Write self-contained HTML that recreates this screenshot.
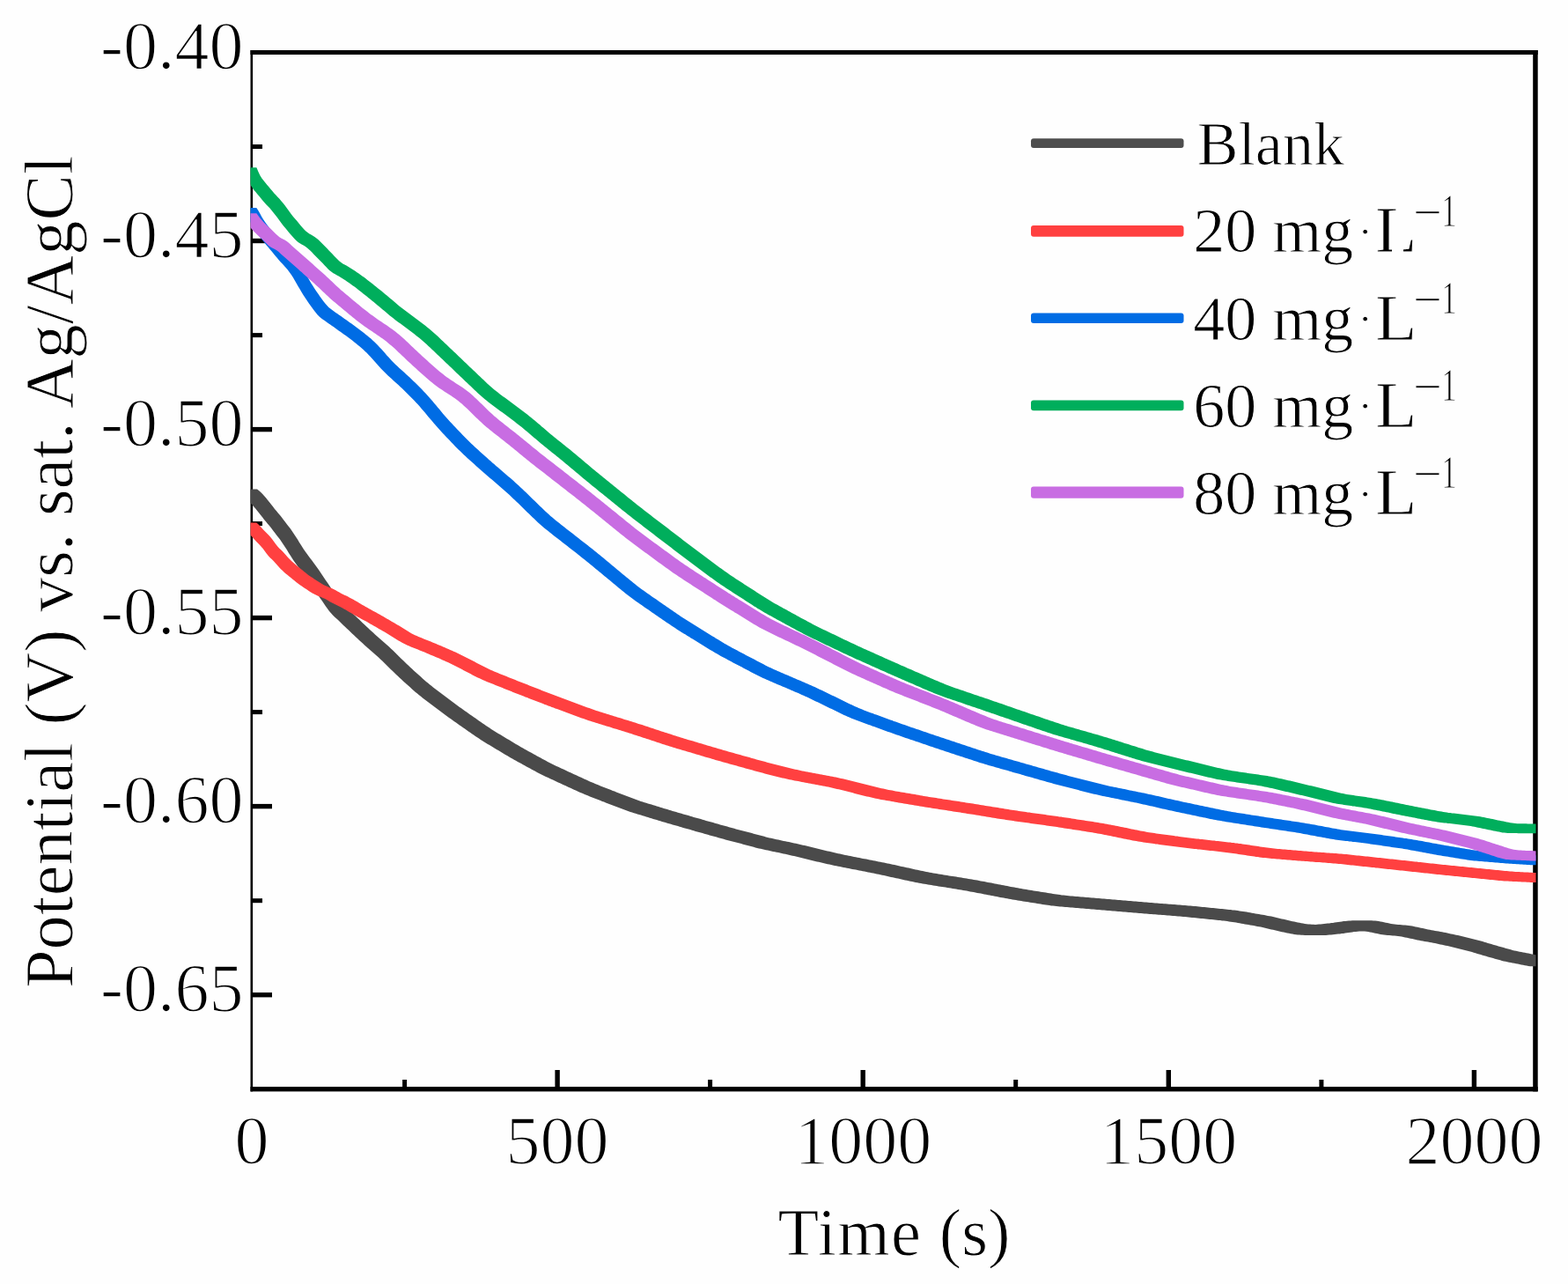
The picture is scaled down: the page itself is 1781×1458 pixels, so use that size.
<!DOCTYPE html>
<html><head><meta charset="utf-8"><title>Potential vs Time</title>
<style>
html,body{margin:0;padding:0;background:#fff;}
body{width:1781px;height:1458px;overflow:hidden;}
svg{display:block;}
text{font-family:"Liberation Serif","Times New Roman",serif;fill:#000;stroke:#fff;stroke-width:1.0px;}
.tick text{stroke-width:1.5px;}
</style></head><body>
<svg width="1781" height="1458" viewBox="0 0 1781 1458">
<rect x="0" y="0" width="1781" height="1458" fill="#fefefe"/>
<defs><clipPath id="plot"><rect x="284.5" y="57" width="1460" height="1182"/></clipPath></defs>

<g fill="#000">
<rect x="284.5" y="57" width="1462.2" height="5"/>
<rect x="1741.2" y="57" width="5.5" height="1182.4"/>
<rect x="284.5" y="1234" width="1462.2" height="5.4"/>
<rect x="284.5" y="57" width="2.6" height="1182.4"/>
<rect x="287" y="270.8" width="22" height="5.4"/>
<rect x="287" y="484.9" width="22" height="5.4"/>
<rect x="287" y="698.9" width="22" height="5.4"/>
<rect x="287" y="912.9" width="22" height="5.4"/>
<rect x="287" y="1127.0" width="22" height="5.4"/>
<rect x="287" y="164.0" width="11" height="5"/>
<rect x="287" y="378.1" width="11" height="5"/>
<rect x="287" y="592.1" width="11" height="5"/>
<rect x="287" y="806.1" width="11" height="5"/>
<rect x="287" y="1020.2" width="11" height="5"/>
<rect x="630.4" y="1215" width="5.4" height="19.5"/>
<rect x="977.5" y="1215" width="5.4" height="19.5"/>
<rect x="1324.6" y="1215" width="5.4" height="19.5"/>
<rect x="1671.7" y="1215" width="5.4" height="19.5"/>
<rect x="457.1" y="1226" width="5" height="8.5"/>
<rect x="804.1" y="1226" width="5" height="8.5"/>
<rect x="1151.2" y="1226" width="5" height="8.5"/>
<rect x="1498.4" y="1226" width="5" height="8.5"/>
</g>
<g clip-path="url(#plot)" stroke="none">
<path fill="#4a4a4a" d="M280.0,567.5 280.0,555.5 292.0,555.5 294.0,557.1 296.0,558.8 298.0,560.7 300.0,562.9 302.0,565.2 304.0,567.7 306.0,570.2 308.0,572.8 310.0,575.3 312.0,577.9 314.0,580.3 316.0,582.7 318.0,585.1 320.0,587.6 322.0,590.2 324.0,592.8 326.0,595.4 328.0,598.0 330.0,600.6 332.0,603.4 334.0,606.4 336.0,609.4 338.0,612.6 340.0,615.9 342.0,619.1 344.0,622.3 346.0,625.3 348.0,628.1 350.0,630.8 352.0,633.4 354.0,636.0 356.0,638.7 358.0,641.4 360.0,644.2 362.0,647.0 364.0,650.0 366.0,652.9 368.0,655.9 370.0,658.9 372.0,661.8 374.0,664.7 376.0,667.7 378.0,670.6 380.0,673.5 382.0,676.4 384.0,679.2 386.0,681.9 388.0,684.3 390.0,686.5 392.0,688.4 394.0,690.3 396.0,692.1 398.0,694.0 400.0,696.0 402.0,697.9 404.0,699.8 406.0,701.7 408.0,703.6 410.0,705.5 412.0,707.4 414.0,709.3 416.0,711.2 418.0,713.1 420.0,715.0 422.0,716.8 424.0,718.6 426.0,720.5 428.0,722.2 430.0,724.0 432.0,725.7 434.0,727.4 436.0,729.2 438.0,730.9 440.0,732.7 442.0,734.5 444.0,736.4 446.0,738.3 448.0,740.3 450.0,742.2 452.0,744.2 454.0,746.2 456.0,748.2 458.0,750.1 460.0,752.1 462.0,754.0 464.0,755.8 466.0,757.7 468.0,759.6 470.0,761.4 472.0,763.2 474.0,765.0 476.0,766.8 478.0,768.6 480.0,770.4 482.0,772.2 484.0,773.9 486.0,775.6 488.0,777.2 490.0,778.8 492.0,780.4 494.0,781.9 496.0,783.5 498.0,785.0 500.0,786.5 502.0,788.0 504.0,789.5 506.0,791.0 508.0,792.5 510.0,794.0 512.0,795.5 514.0,797.0 516.0,798.5 518.0,800.0 520.0,801.4 522.0,802.9 524.0,804.3 526.0,805.7 528.0,807.2 530.0,808.6 532.0,810.0 534.0,811.4 536.0,812.8 538.0,814.2 540.0,815.6 542.0,817.0 544.0,818.4 546.0,819.8 548.0,821.2 550.0,822.5 552.0,823.9 554.0,825.2 556.0,826.6 558.0,827.9 560.0,829.2 562.0,830.4 564.0,831.7 566.0,832.9 568.0,834.1 570.0,835.3 572.0,836.5 574.0,837.7 576.0,838.9 578.0,840.1 580.0,841.3 582.0,842.5 584.0,843.7 586.0,844.9 588.0,846.1 590.0,847.2 592.0,848.4 594.0,849.5 596.0,850.7 598.0,851.8 600.0,852.9 602.0,854.0 604.0,855.1 606.0,856.2 608.0,857.3 610.0,858.4 612.0,859.5 614.0,860.6 616.0,861.7 618.0,862.8 620.0,863.8 622.0,864.9 624.0,865.9 626.0,867.0 628.0,868.0 630.0,868.9 632.0,869.9 634.0,870.8 636.0,871.8 638.0,872.7 640.0,873.6 642.0,874.6 644.0,875.5 646.0,876.4 648.0,877.3 650.0,878.2 652.0,879.2 654.0,880.1 656.0,881.0 658.0,881.9 660.0,882.8 662.0,883.8 664.0,884.7 666.0,885.6 668.0,886.5 670.0,887.4 672.0,888.3 674.0,889.1 676.0,890.0 678.0,890.8 680.0,891.6 682.0,892.4 684.0,893.2 686.0,894.0 688.0,894.8 690.0,895.6 692.0,896.3 694.0,897.1 696.0,897.9 698.0,898.6 700.0,899.4 702.0,900.2 704.0,901.0 706.0,901.7 708.0,902.5 710.0,903.3 712.0,904.0 714.0,904.8 716.0,905.5 718.0,906.3 720.0,907.0 722.0,907.8 724.0,908.5 726.0,909.2 728.0,909.9 730.0,910.5 732.0,911.2 734.0,911.8 736.0,912.4 738.0,913.0 740.0,913.6 742.0,914.2 744.0,914.8 746.0,915.4 748.0,916.1 750.0,916.7 752.0,917.3 754.0,917.9 756.0,918.5 758.0,919.1 760.0,919.7 762.0,920.3 764.0,920.9 766.0,921.5 768.0,922.1 770.0,922.7 772.0,923.3 774.0,923.8 776.0,924.4 778.0,925.0 780.0,925.6 782.0,926.1 784.0,926.7 786.0,927.3 788.0,927.9 790.0,928.4 792.0,929.0 794.0,929.6 796.0,930.1 798.0,930.7 800.0,931.3 802.0,931.9 804.0,932.4 806.0,933.0 808.0,933.6 810.0,934.1 812.0,934.7 814.0,935.3 816.0,935.8 818.0,936.4 820.0,937.0 822.0,937.5 824.0,938.1 826.0,938.6 828.0,939.2 830.0,939.7 832.0,940.3 834.0,940.8 836.0,941.4 838.0,941.9 840.0,942.4 842.0,943.0 844.0,943.5 846.0,944.0 848.0,944.6 850.0,945.1 852.0,945.6 854.0,946.1 856.0,946.7 858.0,947.2 860.0,947.7 862.0,948.3 864.0,948.8 866.0,949.3 868.0,949.8 870.0,950.4 872.0,950.9 874.0,951.4 876.0,951.8 878.0,952.3 880.0,952.8 882.0,953.2 884.0,953.6 886.0,954.1 888.0,954.5 890.0,954.9 892.0,955.3 894.0,955.7 896.0,956.1 898.0,956.6 900.0,957.0 902.0,957.4 904.0,957.8 906.0,958.3 908.0,958.7 910.0,959.2 912.0,959.7 914.0,960.1 916.0,960.6 918.0,961.1 920.0,961.6 922.0,962.0 924.0,962.5 926.0,963.0 928.0,963.5 930.0,964.0 932.0,964.4 934.0,964.9 936.0,965.4 938.0,965.9 940.0,966.4 942.0,966.8 944.0,967.3 946.0,967.8 948.0,968.3 950.0,968.7 952.0,969.2 954.0,969.6 956.0,970.1 958.0,970.5 960.0,970.9 962.0,971.3 964.0,971.7 966.0,972.1 968.0,972.5 970.0,972.9 972.0,973.3 974.0,973.7 976.0,974.1 978.0,974.5 980.0,974.9 982.0,975.2 984.0,975.6 986.0,976.0 988.0,976.4 990.0,976.8 992.0,977.2 994.0,977.6 996.0,978.0 998.0,978.4 1000.0,978.8 1002.0,979.2 1004.0,979.6 1006.0,980.0 1008.0,980.4 1010.0,980.8 1012.0,981.2 1014.0,981.7 1016.0,982.1 1018.0,982.5 1020.0,983.0 1022.0,983.4 1024.0,983.9 1026.0,984.3 1028.0,984.7 1030.0,985.2 1032.0,985.6 1034.0,986.1 1036.0,986.5 1038.0,986.9 1040.0,987.4 1042.0,987.8 1044.0,988.3 1046.0,988.7 1048.0,989.1 1050.0,989.5 1052.0,989.9 1054.0,990.3 1056.0,990.7 1058.0,991.1 1060.0,991.5 1062.0,991.8 1064.0,992.1 1066.0,992.5 1068.0,992.8 1070.0,993.1 1072.0,993.4 1074.0,993.7 1076.0,994.1 1078.0,994.4 1080.0,994.7 1082.0,995.0 1084.0,995.3 1086.0,995.6 1088.0,996.0 1090.0,996.3 1092.0,996.6 1094.0,996.9 1096.0,997.2 1098.0,997.6 1100.0,997.9 1102.0,998.2 1104.0,998.5 1106.0,998.9 1108.0,999.2 1110.0,999.6 1112.0,1000.0 1114.0,1000.4 1116.0,1000.7 1118.0,1001.1 1120.0,1001.5 1122.0,1001.9 1124.0,1002.3 1126.0,1002.6 1128.0,1003.0 1130.0,1003.4 1132.0,1003.8 1134.0,1004.2 1136.0,1004.6 1138.0,1004.9 1140.0,1005.3 1142.0,1005.7 1144.0,1006.1 1146.0,1006.5 1148.0,1006.9 1150.0,1007.2 1152.0,1007.6 1154.0,1008.0 1156.0,1008.3 1158.0,1008.7 1160.0,1009.0 1162.0,1009.4 1164.0,1009.7 1166.0,1010.0 1168.0,1010.4 1170.0,1010.7 1172.0,1011.0 1174.0,1011.4 1176.0,1011.7 1178.0,1012.0 1180.0,1012.3 1182.0,1012.7 1184.0,1013.0 1186.0,1013.3 1188.0,1013.6 1190.0,1014.0 1192.0,1014.3 1194.0,1014.6 1196.0,1014.9 1198.0,1015.3 1200.0,1015.6 1202.0,1015.8 1204.0,1016.1 1206.0,1016.4 1208.0,1016.6 1210.0,1016.8 1212.0,1017.0 1214.0,1017.2 1216.0,1017.4 1218.0,1017.6 1220.0,1017.8 1222.0,1017.9 1224.0,1018.1 1226.0,1018.3 1228.0,1018.4 1230.0,1018.6 1232.0,1018.8 1234.0,1019.0 1236.0,1019.1 1238.0,1019.3 1240.0,1019.5 1242.0,1019.6 1244.0,1019.8 1246.0,1020.0 1248.0,1020.1 1250.0,1020.3 1252.0,1020.5 1254.0,1020.6 1256.0,1020.8 1258.0,1021.0 1260.0,1021.1 1262.0,1021.3 1264.0,1021.5 1266.0,1021.6 1268.0,1021.8 1270.0,1021.9 1272.0,1022.1 1274.0,1022.3 1276.0,1022.4 1278.0,1022.6 1280.0,1022.8 1282.0,1022.9 1284.0,1023.1 1286.0,1023.3 1288.0,1023.4 1290.0,1023.6 1292.0,1023.8 1294.0,1023.9 1296.0,1024.1 1298.0,1024.2 1300.0,1024.4 1302.0,1024.6 1304.0,1024.7 1306.0,1024.9 1308.0,1025.1 1310.0,1025.2 1312.0,1025.4 1314.0,1025.5 1316.0,1025.7 1318.0,1025.9 1320.0,1026.0 1322.0,1026.2 1324.0,1026.3 1326.0,1026.5 1328.0,1026.7 1330.0,1026.8 1332.0,1027.0 1334.0,1027.1 1336.0,1027.3 1338.0,1027.5 1340.0,1027.6 1342.0,1027.8 1344.0,1027.9 1346.0,1028.1 1348.0,1028.3 1350.0,1028.4 1352.0,1028.6 1354.0,1028.8 1356.0,1029.0 1358.0,1029.1 1360.0,1029.3 1362.0,1029.5 1364.0,1029.7 1366.0,1029.9 1368.0,1030.1 1370.0,1030.3 1372.0,1030.5 1374.0,1030.7 1376.0,1030.9 1378.0,1031.1 1380.0,1031.3 1382.0,1031.5 1384.0,1031.7 1386.0,1031.9 1388.0,1032.1 1390.0,1032.3 1392.0,1032.5 1394.0,1032.7 1396.0,1032.9 1398.0,1033.1 1400.0,1033.4 1402.0,1033.6 1404.0,1033.8 1406.0,1034.1 1408.0,1034.4 1410.0,1034.7 1412.0,1035.0 1414.0,1035.3 1416.0,1035.6 1418.0,1036.0 1420.0,1036.3 1422.0,1036.7 1424.0,1037.0 1426.0,1037.4 1428.0,1037.7 1430.0,1038.1 1432.0,1038.4 1434.0,1038.8 1436.0,1039.1 1438.0,1039.5 1440.0,1039.9 1442.0,1040.2 1444.0,1040.6 1446.0,1041.1 1448.0,1041.5 1450.0,1041.9 1452.0,1042.4 1454.0,1042.9 1456.0,1043.4 1458.0,1043.8 1460.0,1044.3 1462.0,1044.8 1464.0,1045.2 1466.0,1045.8 1468.0,1046.2 1470.0,1046.6 1472.0,1047.0 1474.0,1047.4 1476.0,1047.8 1478.0,1048.2 1480.0,1048.6 1482.0,1049.0 1484.0,1049.2 1486.0,1049.5 1488.0,1049.6 1490.0,1049.7 1492.0,1049.8 1494.0,1049.9 1496.0,1049.9 1498.0,1050.0 1500.0,1050.0 1502.0,1050.0 1502.0,1062.0 1490.0,1062.0 1488.0,1062.0 1486.0,1062.0 1484.0,1061.9 1482.0,1061.9 1480.0,1061.8 1478.0,1061.7 1476.0,1061.6 1474.0,1061.5 1472.0,1061.2 1470.0,1061.0 1468.0,1060.6 1466.0,1060.2 1464.0,1059.8 1462.0,1059.4 1460.0,1059.0 1458.0,1058.6 1456.0,1058.2 1454.0,1057.8 1452.0,1057.2 1450.0,1056.8 1448.0,1056.3 1446.0,1055.8 1444.0,1055.4 1442.0,1054.9 1440.0,1054.4 1438.0,1053.9 1436.0,1053.5 1434.0,1053.1 1432.0,1052.6 1430.0,1052.2 1428.0,1051.9 1426.0,1051.5 1424.0,1051.1 1422.0,1050.8 1420.0,1050.4 1418.0,1050.1 1416.0,1049.7 1414.0,1049.4 1412.0,1049.0 1410.0,1048.7 1408.0,1048.3 1406.0,1048.0 1404.0,1047.6 1402.0,1047.3 1400.0,1047.0 1398.0,1046.7 1396.0,1046.4 1394.0,1046.1 1392.0,1045.8 1390.0,1045.6 1388.0,1045.4 1386.0,1045.1 1384.0,1044.9 1382.0,1044.7 1380.0,1044.5 1378.0,1044.3 1376.0,1044.1 1374.0,1043.9 1372.0,1043.7 1370.0,1043.5 1368.0,1043.3 1366.0,1043.1 1364.0,1042.9 1362.0,1042.7 1360.0,1042.5 1358.0,1042.3 1356.0,1042.1 1354.0,1041.9 1352.0,1041.7 1350.0,1041.5 1348.0,1041.3 1346.0,1041.1 1344.0,1041.0 1342.0,1040.8 1340.0,1040.6 1338.0,1040.4 1336.0,1040.3 1334.0,1040.1 1332.0,1039.9 1330.0,1039.8 1328.0,1039.6 1326.0,1039.5 1324.0,1039.3 1322.0,1039.1 1320.0,1039.0 1318.0,1038.8 1316.0,1038.7 1314.0,1038.5 1312.0,1038.3 1310.0,1038.2 1308.0,1038.0 1306.0,1037.9 1304.0,1037.7 1302.0,1037.5 1300.0,1037.4 1298.0,1037.2 1296.0,1037.1 1294.0,1036.9 1292.0,1036.7 1290.0,1036.6 1288.0,1036.4 1286.0,1036.2 1284.0,1036.1 1282.0,1035.9 1280.0,1035.8 1278.0,1035.6 1276.0,1035.4 1274.0,1035.3 1272.0,1035.1 1270.0,1034.9 1268.0,1034.8 1266.0,1034.6 1264.0,1034.4 1262.0,1034.3 1260.0,1034.1 1258.0,1033.9 1256.0,1033.8 1254.0,1033.6 1252.0,1033.5 1250.0,1033.3 1248.0,1033.1 1246.0,1033.0 1244.0,1032.8 1242.0,1032.6 1240.0,1032.5 1238.0,1032.3 1236.0,1032.1 1234.0,1032.0 1232.0,1031.8 1230.0,1031.6 1228.0,1031.5 1226.0,1031.3 1224.0,1031.1 1222.0,1031.0 1220.0,1030.8 1218.0,1030.6 1216.0,1030.4 1214.0,1030.3 1212.0,1030.1 1210.0,1029.9 1208.0,1029.8 1206.0,1029.6 1204.0,1029.4 1202.0,1029.2 1200.0,1029.0 1198.0,1028.8 1196.0,1028.6 1194.0,1028.4 1192.0,1028.1 1190.0,1027.8 1188.0,1027.6 1186.0,1027.3 1184.0,1026.9 1182.0,1026.6 1180.0,1026.3 1178.0,1026.0 1176.0,1025.6 1174.0,1025.3 1172.0,1025.0 1170.0,1024.7 1168.0,1024.3 1166.0,1024.0 1164.0,1023.7 1162.0,1023.4 1160.0,1023.0 1158.0,1022.7 1156.0,1022.4 1154.0,1022.0 1152.0,1021.7 1150.0,1021.4 1148.0,1021.0 1146.0,1020.7 1144.0,1020.3 1142.0,1020.0 1140.0,1019.6 1138.0,1019.2 1136.0,1018.9 1134.0,1018.5 1132.0,1018.1 1130.0,1017.7 1128.0,1017.3 1126.0,1016.9 1124.0,1016.6 1122.0,1016.2 1120.0,1015.8 1118.0,1015.4 1116.0,1015.0 1114.0,1014.6 1112.0,1014.3 1110.0,1013.9 1108.0,1013.5 1106.0,1013.1 1104.0,1012.7 1102.0,1012.4 1100.0,1012.0 1098.0,1011.6 1096.0,1011.2 1094.0,1010.9 1092.0,1010.5 1090.0,1010.2 1088.0,1009.9 1086.0,1009.6 1084.0,1009.2 1082.0,1008.9 1080.0,1008.6 1078.0,1008.3 1076.0,1008.0 1074.0,1007.6 1072.0,1007.3 1070.0,1007.0 1068.0,1006.7 1066.0,1006.4 1064.0,1006.1 1062.0,1005.7 1060.0,1005.4 1058.0,1005.1 1056.0,1004.8 1054.0,1004.5 1052.0,1004.1 1050.0,1003.8 1048.0,1003.5 1046.0,1003.1 1044.0,1002.7 1042.0,1002.3 1040.0,1001.9 1038.0,1001.5 1036.0,1001.1 1034.0,1000.7 1032.0,1000.3 1030.0,999.8 1028.0,999.4 1026.0,998.9 1024.0,998.5 1022.0,998.1 1020.0,997.6 1018.0,997.2 1016.0,996.7 1014.0,996.3 1012.0,995.9 1010.0,995.4 1008.0,995.0 1006.0,994.5 1004.0,994.1 1002.0,993.7 1000.0,993.2 998.0,992.8 996.0,992.4 994.0,992.0 992.0,991.6 990.0,991.2 988.0,990.8 986.0,990.4 984.0,990.0 982.0,989.6 980.0,989.2 978.0,988.8 976.0,988.4 974.0,988.0 972.0,987.6 970.0,987.2 968.0,986.9 966.0,986.5 964.0,986.1 962.0,985.7 960.0,985.3 958.0,984.9 956.0,984.5 954.0,984.1 952.0,983.7 950.0,983.3 948.0,982.9 946.0,982.5 944.0,982.1 942.0,981.6 940.0,981.2 938.0,980.7 936.0,980.3 934.0,979.8 932.0,979.3 930.0,978.8 928.0,978.4 926.0,977.9 924.0,977.4 922.0,976.9 920.0,976.4 918.0,976.0 916.0,975.5 914.0,975.0 912.0,974.5 910.0,974.0 908.0,973.6 906.0,973.1 904.0,972.6 902.0,972.1 900.0,971.7 898.0,971.2 896.0,970.7 894.0,970.3 892.0,969.8 890.0,969.4 888.0,969.0 886.0,968.6 884.0,968.1 882.0,967.7 880.0,967.3 878.0,966.9 876.0,966.5 874.0,966.1 872.0,965.6 870.0,965.2 868.0,964.8 866.0,964.3 864.0,963.8 862.0,963.4 860.0,962.9 858.0,962.4 856.0,961.8 854.0,961.3 852.0,960.8 850.0,960.3 848.0,959.7 846.0,959.2 844.0,958.7 842.0,958.1 840.0,957.6 838.0,957.1 836.0,956.6 834.0,956.0 832.0,955.5 830.0,955.0 828.0,954.4 826.0,953.9 824.0,953.4 822.0,952.8 820.0,952.3 818.0,951.7 816.0,951.2 814.0,950.6 812.0,950.1 810.0,949.5 808.0,949.0 806.0,948.4 804.0,947.8 802.0,947.3 800.0,946.7 798.0,946.1 796.0,945.6 794.0,945.0 792.0,944.4 790.0,943.9 788.0,943.3 786.0,942.7 784.0,942.1 782.0,941.6 780.0,941.0 778.0,940.4 776.0,939.9 774.0,939.3 772.0,938.7 770.0,938.1 768.0,937.6 766.0,937.0 764.0,936.4 762.0,935.8 760.0,935.3 758.0,934.7 756.0,934.1 754.0,933.5 752.0,932.9 750.0,932.3 748.0,931.7 746.0,931.1 744.0,930.5 742.0,929.9 740.0,929.3 738.0,928.7 736.0,928.1 734.0,927.4 732.0,926.8 730.0,926.2 728.0,925.6 726.0,925.0 724.0,924.4 722.0,923.8 720.0,923.2 718.0,922.5 716.0,921.9 714.0,921.2 712.0,920.5 710.0,919.8 708.0,919.0 706.0,918.3 704.0,917.5 702.0,916.8 700.0,916.0 698.0,915.3 696.0,914.5 694.0,913.7 692.0,913.0 690.0,912.2 688.0,911.4 686.0,910.6 684.0,909.9 682.0,909.1 680.0,908.3 678.0,907.6 676.0,906.8 674.0,906.0 672.0,905.2 670.0,904.4 668.0,903.6 666.0,902.8 664.0,902.0 662.0,901.1 660.0,900.3 658.0,899.4 656.0,898.5 654.0,897.6 652.0,896.7 650.0,895.8 648.0,894.8 646.0,893.9 644.0,893.0 642.0,892.1 640.0,891.2 638.0,890.2 636.0,889.3 634.0,888.4 632.0,887.5 630.0,886.6 628.0,885.6 626.0,884.7 624.0,883.8 622.0,882.8 620.0,881.9 618.0,880.9 616.0,880.0 614.0,879.0 612.0,877.9 610.0,876.9 608.0,875.8 606.0,874.8 604.0,873.7 602.0,872.6 600.0,871.5 598.0,870.4 596.0,869.3 594.0,868.2 592.0,867.1 590.0,866.0 588.0,864.9 586.0,863.8 584.0,862.7 582.0,861.5 580.0,860.4 578.0,859.2 576.0,858.1 574.0,856.9 572.0,855.7 570.0,854.5 568.0,853.3 566.0,852.1 564.0,850.9 562.0,849.7 560.0,848.5 558.0,847.3 556.0,846.1 554.0,844.9 552.0,843.7 550.0,842.4 548.0,841.2 546.0,839.9 544.0,838.6 542.0,837.2 540.0,835.9 538.0,834.5 536.0,833.2 534.0,831.8 532.0,830.4 530.0,829.0 528.0,827.6 526.0,826.2 524.0,824.8 522.0,823.4 520.0,822.0 518.0,820.6 516.0,819.2 514.0,817.7 512.0,816.3 510.0,814.9 508.0,813.4 506.0,812.0 504.0,810.5 502.0,809.0 500.0,807.5 498.0,806.0 496.0,804.5 494.0,803.0 492.0,801.5 490.0,800.0 488.0,798.5 486.0,797.0 484.0,795.5 482.0,793.9 480.0,792.4 478.0,790.8 476.0,789.2 474.0,787.6 472.0,785.9 470.0,784.2 468.0,782.4 466.0,780.6 464.0,778.8 462.0,777.0 460.0,775.2 458.0,773.4 456.0,771.6 454.0,769.7 452.0,767.8 450.0,766.0 448.0,764.1 446.0,762.1 444.0,760.2 442.0,758.2 440.0,756.2 438.0,754.2 436.0,752.3 434.0,750.3 432.0,748.4 430.0,746.5 428.0,744.7 426.0,742.9 424.0,741.2 422.0,739.4 420.0,737.7 418.0,736.0 416.0,734.2 414.0,732.5 412.0,730.6 410.0,728.8 408.0,727.0 406.0,725.1 404.0,723.2 402.0,721.3 400.0,719.4 398.0,717.5 396.0,715.6 394.0,713.7 392.0,711.8 390.0,709.9 388.0,708.0 386.0,706.0 384.0,704.1 382.0,702.3 380.0,700.4 378.0,698.5 376.0,696.3 374.0,693.9 372.0,691.2 370.0,688.4 368.0,685.5 366.0,682.6 364.0,679.7 362.0,676.7 360.0,673.8 358.0,670.9 356.0,667.9 354.0,664.9 352.0,662.0 350.0,659.0 348.0,656.2 346.0,653.4 344.0,650.7 342.0,648.0 340.0,645.4 338.0,642.8 336.0,640.1 334.0,637.3 332.0,634.3 330.0,631.1 328.0,627.9 326.0,624.6 324.0,621.4 322.0,618.4 320.0,615.4 318.0,612.6 316.0,610.0 314.0,607.4 312.0,604.8 310.0,602.2 308.0,599.6 306.0,597.1 304.0,594.7 302.0,592.3 300.0,589.9 298.0,587.3 296.0,584.8 294.0,582.2 292.0,579.7 290.0,577.2 288.0,574.9 286.0,572.7 284.0,570.8 282.0,569.1 280.0,567.5ZM1490.0,1050.0 1492.0,1050.0 1494.0,1049.9 1496.0,1049.8 1498.0,1049.6 1500.0,1049.4 1502.0,1049.2 1504.0,1049.0 1506.0,1048.8 1508.0,1048.6 1510.0,1048.4 1512.0,1048.1 1514.0,1047.9 1516.0,1047.6 1518.0,1047.3 1520.0,1047.0 1522.0,1046.7 1524.0,1046.4 1526.0,1046.1 1528.0,1045.9 1530.0,1045.7 1532.0,1045.5 1534.0,1045.4 1536.0,1045.3 1538.0,1045.3 1540.0,1045.3 1542.0,1045.3 1554.0,1045.3 1554.0,1057.3 1552.0,1057.3 1550.0,1057.3 1548.0,1057.3 1546.0,1057.4 1544.0,1057.5 1542.0,1057.7 1540.0,1057.9 1538.0,1058.1 1536.0,1058.4 1534.0,1058.7 1532.0,1059.0 1530.0,1059.3 1528.0,1059.6 1526.0,1059.9 1524.0,1060.1 1522.0,1060.4 1520.0,1060.6 1518.0,1060.8 1516.0,1061.0 1514.0,1061.2 1512.0,1061.4 1510.0,1061.6 1508.0,1061.8 1506.0,1061.9 1504.0,1062.0 1502.0,1062.0 1490.0,1062.0 1490.0,1050.0ZM1542.0,1057.3 1542.0,1045.3 1554.0,1045.3 1556.0,1045.3 1558.0,1045.3 1560.0,1045.4 1562.0,1045.5 1564.0,1045.7 1566.0,1046.0 1568.0,1046.4 1570.0,1046.8 1572.0,1047.2 1574.0,1047.7 1576.0,1048.1 1578.0,1048.5 1580.0,1048.9 1582.0,1049.2 1584.0,1049.5 1586.0,1049.8 1588.0,1050.0 1590.0,1050.1 1592.0,1050.3 1594.0,1050.5 1596.0,1050.6 1598.0,1050.8 1600.0,1051.0 1602.0,1051.3 1604.0,1051.6 1606.0,1051.9 1608.0,1052.4 1610.0,1052.8 1612.0,1053.2 1614.0,1053.7 1616.0,1054.1 1618.0,1054.5 1620.0,1055.0 1622.0,1055.4 1624.0,1055.8 1626.0,1056.2 1628.0,1056.5 1630.0,1056.9 1632.0,1057.2 1634.0,1057.6 1636.0,1058.0 1638.0,1058.3 1640.0,1058.7 1642.0,1059.1 1644.0,1059.5 1646.0,1059.9 1648.0,1060.4 1650.0,1060.8 1652.0,1061.2 1654.0,1061.7 1656.0,1062.1 1658.0,1062.5 1660.0,1063.0 1662.0,1063.5 1664.0,1063.9 1666.0,1064.4 1668.0,1064.9 1670.0,1065.4 1672.0,1065.9 1674.0,1066.4 1676.0,1066.9 1678.0,1067.5 1680.0,1068.0 1682.0,1068.5 1684.0,1069.1 1686.0,1069.7 1688.0,1070.3 1690.0,1070.9 1692.0,1071.5 1694.0,1072.1 1696.0,1072.7 1698.0,1073.3 1700.0,1073.8 1702.0,1074.4 1704.0,1075.0 1706.0,1075.6 1708.0,1076.1 1710.0,1076.7 1712.0,1077.2 1714.0,1077.8 1716.0,1078.3 1718.0,1078.9 1720.0,1079.4 1722.0,1079.8 1724.0,1080.3 1726.0,1080.7 1728.0,1081.1 1730.0,1081.4 1732.0,1081.8 1734.0,1082.2 1736.0,1082.6 1738.0,1083.0 1740.0,1083.4 1742.0,1083.8 1744.0,1084.2 1746.0,1084.5 1748.0,1084.9 1750.0,1085.3 1750.0,1097.3 1738.0,1097.3 1736.0,1096.9 1734.0,1096.5 1732.0,1096.2 1730.0,1095.8 1728.0,1095.4 1726.0,1095.0 1724.0,1094.6 1722.0,1094.2 1720.0,1093.8 1718.0,1093.4 1716.0,1093.1 1714.0,1092.7 1712.0,1092.3 1710.0,1091.8 1708.0,1091.4 1706.0,1090.9 1704.0,1090.3 1702.0,1089.8 1700.0,1089.2 1698.0,1088.7 1696.0,1088.1 1694.0,1087.6 1692.0,1087.0 1690.0,1086.4 1688.0,1085.8 1686.0,1085.3 1684.0,1084.7 1682.0,1084.1 1680.0,1083.5 1678.0,1082.9 1676.0,1082.3 1674.0,1081.7 1672.0,1081.1 1670.0,1080.5 1668.0,1080.0 1666.0,1079.5 1664.0,1078.9 1662.0,1078.4 1660.0,1077.9 1658.0,1077.4 1656.0,1076.9 1654.0,1076.4 1652.0,1075.9 1650.0,1075.5 1648.0,1075.0 1646.0,1074.5 1644.0,1074.1 1642.0,1073.7 1640.0,1073.2 1638.0,1072.8 1636.0,1072.4 1634.0,1071.9 1632.0,1071.5 1630.0,1071.1 1628.0,1070.7 1626.0,1070.3 1624.0,1070.0 1622.0,1069.6 1620.0,1069.2 1618.0,1068.9 1616.0,1068.5 1614.0,1068.2 1612.0,1067.8 1610.0,1067.4 1608.0,1067.0 1606.0,1066.5 1604.0,1066.1 1602.0,1065.7 1600.0,1065.2 1598.0,1064.8 1596.0,1064.4 1594.0,1063.9 1592.0,1063.6 1590.0,1063.3 1588.0,1063.0 1586.0,1062.8 1584.0,1062.6 1582.0,1062.5 1580.0,1062.3 1578.0,1062.1 1576.0,1062.0 1574.0,1061.8 1572.0,1061.5 1570.0,1061.2 1568.0,1060.9 1566.0,1060.5 1564.0,1060.1 1562.0,1059.7 1560.0,1059.2 1558.0,1058.8 1556.0,1058.4 1554.0,1058.0 1552.0,1057.7 1550.0,1057.5 1548.0,1057.4 1546.0,1057.3 1544.0,1057.3 1542.0,1057.3Z"/>
<path fill="#ff4040" d="M280.7,604.2 280.7,593.6 291.3,593.6 293.3,595.3 295.3,597.2 297.3,599.4 299.3,601.7 301.3,603.8 303.3,605.8 305.3,607.8 307.3,610.1 309.3,612.5 311.3,615.2 313.3,618.0 315.3,620.5 317.3,622.7 319.3,624.5 321.3,626.5 323.3,628.7 325.3,631.0 327.3,633.2 329.3,635.3 331.3,637.2 333.3,639.1 335.3,640.8 337.3,642.5 339.3,644.1 341.3,645.7 343.3,647.3 345.3,649.0 347.3,650.6 349.3,652.2 351.3,653.7 353.3,655.0 355.3,656.3 357.3,657.7 359.3,659.0 361.3,660.3 363.3,661.6 365.3,662.8 367.3,663.9 369.3,664.9 371.3,665.8 373.3,666.7 375.3,667.5 377.3,668.3 379.3,669.2 381.3,670.2 383.3,671.4 385.3,672.6 387.3,673.7 389.3,674.7 391.3,675.7 393.3,676.6 395.3,677.6 397.3,678.7 399.3,679.7 401.3,680.8 403.3,682.0 405.3,683.1 407.3,684.3 409.3,685.5 411.3,686.7 413.3,687.8 415.3,689.0 417.3,690.1 419.3,691.2 421.3,692.3 423.3,693.4 425.3,694.4 427.3,695.5 429.3,696.7 431.3,697.8 433.3,698.9 435.3,700.1 437.3,701.2 439.3,702.4 441.3,703.6 443.3,704.7 445.3,705.9 447.3,707.0 449.3,708.2 451.3,709.4 453.3,710.6 455.3,711.8 457.3,713.1 459.3,714.3 461.3,715.6 463.3,716.8 465.3,718.0 467.3,719.2 469.3,720.2 471.3,721.2 473.3,722.1 475.3,723.0 477.3,723.8 479.3,724.6 481.3,725.4 483.3,726.2 485.3,727.0 487.3,727.8 489.3,728.6 491.3,729.4 493.3,730.2 495.3,731.1 497.3,731.9 499.3,732.8 501.3,733.6 503.3,734.5 505.3,735.3 507.3,736.2 509.3,737.0 511.3,737.9 513.3,738.8 515.3,739.7 517.3,740.6 519.3,741.5 521.3,742.4 523.3,743.4 525.3,744.4 527.3,745.4 529.3,746.4 531.3,747.4 533.3,748.5 535.3,749.5 537.3,750.6 539.3,751.6 541.3,752.7 543.3,753.7 545.3,754.7 547.3,755.8 549.3,756.8 551.3,757.8 553.3,758.8 555.3,759.7 557.3,760.7 559.3,761.6 561.3,762.4 563.3,763.3 565.3,764.1 567.3,764.9 569.3,765.7 571.3,766.5 573.3,767.3 575.3,768.1 577.3,768.9 579.3,769.7 581.3,770.5 583.3,771.3 585.3,772.1 587.3,772.9 589.3,773.7 591.3,774.5 593.3,775.3 595.3,776.1 597.3,776.8 599.3,777.6 601.3,778.4 603.3,779.2 605.3,780.0 607.3,780.8 609.3,781.5 611.3,782.3 613.3,783.1 615.3,783.9 617.3,784.7 619.3,785.4 621.3,786.2 623.3,787.0 625.3,787.7 627.3,788.5 629.3,789.3 631.3,790.0 633.3,790.8 635.3,791.5 637.3,792.3 639.3,793.0 641.3,793.8 643.3,794.5 645.3,795.2 647.3,796.0 649.3,796.7 651.3,797.5 653.3,798.2 655.3,799.0 657.3,799.7 659.3,800.4 661.3,801.2 663.3,801.9 665.3,802.7 667.3,803.4 669.3,804.1 671.3,804.8 673.3,805.5 675.3,806.2 677.3,806.9 679.3,807.6 681.3,808.2 683.3,808.8 685.3,809.5 687.3,810.1 689.3,810.7 691.3,811.3 693.3,811.9 695.3,812.6 697.3,813.2 699.3,813.8 701.3,814.4 703.3,815.0 705.3,815.6 707.3,816.3 709.3,816.9 711.3,817.5 713.3,818.1 715.3,818.7 717.3,819.3 719.3,820.0 721.3,820.6 723.3,821.2 725.3,821.9 727.3,822.5 729.3,823.1 731.3,823.8 733.3,824.4 735.3,825.1 737.3,825.7 739.3,826.4 741.3,827.1 743.3,827.7 745.3,828.4 747.3,829.0 749.3,829.7 751.3,830.4 753.3,831.0 755.3,831.7 757.3,832.3 759.3,833.0 761.3,833.6 763.3,834.3 765.3,834.9 767.3,835.6 769.3,836.2 771.3,836.8 773.3,837.4 775.3,838.1 777.3,838.7 779.3,839.3 781.3,839.9 783.3,840.5 785.3,841.1 787.3,841.6 789.3,842.2 791.3,842.8 793.3,843.4 795.3,844.0 797.3,844.6 799.3,845.2 801.3,845.8 803.3,846.4 805.3,847.0 807.3,847.6 809.3,848.2 811.3,848.8 813.3,849.3 815.3,849.9 817.3,850.5 819.3,851.1 821.3,851.7 823.3,852.3 825.3,852.8 827.3,853.4 829.3,854.0 831.3,854.6 833.3,855.1 835.3,855.7 837.3,856.2 839.3,856.8 841.3,857.3 843.3,857.9 845.3,858.5 847.3,859.0 849.3,859.6 851.3,860.1 853.3,860.7 855.3,861.2 857.3,861.8 859.3,862.4 861.3,862.9 863.3,863.5 865.3,864.0 867.3,864.6 869.3,865.1 871.3,865.7 873.3,866.2 875.3,866.7 877.3,867.2 879.3,867.8 881.3,868.3 883.3,868.8 885.3,869.3 887.3,869.8 889.3,870.3 891.3,870.8 893.3,871.3 895.3,871.8 897.3,872.3 899.3,872.8 901.3,873.2 903.3,873.7 905.3,874.1 907.3,874.6 909.3,875.0 911.3,875.4 913.3,875.8 915.3,876.2 917.3,876.5 919.3,876.9 921.3,877.3 923.3,877.7 925.3,878.1 927.3,878.4 929.3,878.8 931.3,879.2 933.3,879.6 935.3,879.9 937.3,880.3 939.3,880.7 941.3,881.1 943.3,881.5 945.3,881.8 947.3,882.2 949.3,882.6 951.3,883.0 953.3,883.4 955.3,883.9 957.3,884.3 959.3,884.8 961.3,885.3 963.3,885.7 965.3,886.2 967.3,886.7 969.3,887.2 971.3,887.7 973.3,888.2 975.3,888.7 977.3,889.2 979.3,889.7 981.3,890.3 983.3,890.8 985.3,891.3 987.3,891.8 989.3,892.3 991.3,892.8 993.3,893.3 995.3,893.8 997.3,894.2 999.3,894.7 1001.3,895.2 1003.3,895.6 1005.3,896.1 1007.3,896.5 1009.3,896.9 1011.3,897.3 1013.3,897.6 1015.3,898.0 1017.3,898.4 1019.3,898.7 1021.3,899.0 1023.3,899.4 1025.3,899.7 1027.3,900.1 1029.3,900.4 1031.3,900.8 1033.3,901.1 1035.3,901.5 1037.3,901.8 1039.3,902.1 1041.3,902.5 1043.3,902.8 1045.3,903.2 1047.3,903.5 1049.3,903.9 1051.3,904.2 1053.3,904.5 1055.3,904.9 1057.3,905.2 1059.3,905.5 1061.3,905.8 1063.3,906.1 1065.3,906.4 1067.3,906.7 1069.3,907.1 1071.3,907.4 1073.3,907.7 1075.3,908.0 1077.3,908.3 1079.3,908.6 1081.3,908.9 1083.3,909.2 1085.3,909.5 1087.3,909.8 1089.3,910.1 1091.3,910.4 1093.3,910.8 1095.3,911.1 1097.3,911.4 1099.3,911.7 1101.3,912.0 1103.3,912.3 1105.3,912.6 1107.3,912.9 1109.3,913.3 1111.3,913.6 1113.3,913.9 1115.3,914.2 1117.3,914.5 1119.3,914.9 1121.3,915.2 1123.3,915.5 1125.3,915.8 1127.3,916.2 1129.3,916.5 1131.3,916.8 1133.3,917.1 1135.3,917.5 1137.3,917.8 1139.3,918.1 1141.3,918.4 1143.3,918.8 1145.3,919.1 1147.3,919.4 1149.3,919.7 1151.3,920.0 1153.3,920.3 1155.3,920.6 1157.3,920.9 1159.3,921.2 1161.3,921.5 1163.3,921.8 1165.3,922.1 1167.3,922.4 1169.3,922.6 1171.3,922.9 1173.3,923.2 1175.3,923.5 1177.3,923.7 1179.3,924.0 1181.3,924.3 1183.3,924.6 1185.3,924.8 1187.3,925.1 1189.3,925.4 1191.3,925.7 1193.3,925.9 1195.3,926.2 1197.3,926.5 1199.3,926.8 1201.3,927.1 1203.3,927.4 1205.3,927.6 1207.3,927.9 1209.3,928.2 1211.3,928.5 1213.3,928.8 1215.3,929.1 1217.3,929.4 1219.3,929.8 1221.3,930.1 1223.3,930.4 1225.3,930.7 1227.3,931.0 1229.3,931.3 1231.3,931.6 1233.3,931.9 1235.3,932.2 1237.3,932.5 1239.3,932.8 1241.3,933.1 1243.3,933.5 1245.3,933.8 1247.3,934.1 1249.3,934.4 1251.3,934.7 1253.3,935.1 1255.3,935.4 1257.3,935.8 1259.3,936.2 1261.3,936.5 1263.3,936.9 1265.3,937.3 1267.3,937.7 1269.3,938.1 1271.3,938.5 1273.3,938.9 1275.3,939.3 1277.3,939.7 1279.3,940.1 1281.3,940.6 1283.3,941.0 1285.3,941.4 1287.3,941.8 1289.3,942.2 1291.3,942.6 1293.3,943.0 1295.3,943.4 1297.3,943.8 1299.3,944.1 1301.3,944.5 1303.3,944.9 1305.3,945.2 1307.3,945.5 1309.3,945.8 1311.3,946.1 1313.3,946.4 1315.3,946.7 1317.3,947.0 1319.3,947.2 1321.3,947.5 1323.3,947.8 1325.3,948.0 1327.3,948.3 1329.3,948.6 1331.3,948.8 1333.3,949.1 1335.3,949.4 1337.3,949.6 1339.3,949.9 1341.3,950.2 1343.3,950.4 1345.3,950.7 1347.3,950.9 1349.3,951.2 1351.3,951.4 1353.3,951.7 1355.3,951.9 1357.3,952.2 1359.3,952.4 1361.3,952.6 1363.3,952.9 1365.3,953.1 1367.3,953.3 1369.3,953.5 1371.3,953.8 1373.3,954.0 1375.3,954.2 1377.3,954.4 1379.3,954.6 1381.3,954.9 1383.3,955.1 1385.3,955.3 1387.3,955.5 1389.3,955.7 1391.3,956.0 1393.3,956.2 1395.3,956.4 1397.3,956.6 1399.3,956.9 1401.3,957.1 1403.3,957.4 1405.3,957.6 1407.3,957.9 1409.3,958.1 1411.3,958.4 1413.3,958.7 1415.3,959.0 1417.3,959.3 1419.3,959.6 1421.3,959.9 1423.3,960.2 1425.3,960.5 1427.3,960.8 1429.3,961.1 1431.3,961.4 1433.3,961.7 1435.3,962.0 1437.3,962.3 1439.3,962.5 1441.3,962.8 1443.3,963.1 1445.3,963.3 1447.3,963.5 1449.3,963.7 1451.3,963.9 1453.3,964.1 1455.3,964.3 1457.3,964.5 1459.3,964.6 1461.3,964.8 1463.3,965.0 1465.3,965.1 1467.3,965.3 1469.3,965.5 1471.3,965.6 1473.3,965.8 1475.3,966.0 1477.3,966.1 1479.3,966.3 1481.3,966.5 1483.3,966.6 1485.3,966.8 1487.3,966.9 1489.3,967.1 1491.3,967.2 1493.3,967.4 1495.3,967.5 1497.3,967.7 1499.3,967.8 1501.3,968.0 1503.3,968.1 1505.3,968.3 1507.3,968.4 1509.3,968.5 1511.3,968.7 1513.3,968.8 1515.3,969.0 1517.3,969.1 1519.3,969.3 1521.3,969.4 1523.3,969.6 1525.3,969.8 1527.3,969.9 1529.3,970.1 1531.3,970.3 1533.3,970.5 1535.3,970.7 1537.3,971.0 1539.3,971.2 1541.3,971.4 1543.3,971.6 1545.3,971.8 1547.3,972.0 1549.3,972.2 1551.3,972.4 1553.3,972.6 1555.3,972.8 1557.3,973.1 1559.3,973.3 1561.3,973.5 1563.3,973.7 1565.3,973.9 1567.3,974.1 1569.3,974.3 1571.3,974.5 1573.3,974.8 1575.3,975.0 1577.3,975.2 1579.3,975.4 1581.3,975.6 1583.3,975.8 1585.3,976.1 1587.3,976.3 1589.3,976.5 1591.3,976.7 1593.3,976.9 1595.3,977.1 1597.3,977.3 1599.3,977.6 1601.3,977.8 1603.3,978.0 1605.3,978.2 1607.3,978.4 1609.3,978.6 1611.3,978.9 1613.3,979.1 1615.3,979.3 1617.3,979.5 1619.3,979.7 1621.3,979.9 1623.3,980.2 1625.3,980.4 1627.3,980.6 1629.3,980.8 1631.3,981.0 1633.3,981.2 1635.3,981.5 1637.3,981.7 1639.3,981.9 1641.3,982.1 1643.3,982.3 1645.3,982.5 1647.3,982.7 1649.3,982.9 1651.3,983.1 1653.3,983.3 1655.3,983.5 1657.3,983.7 1659.3,983.9 1661.3,984.1 1663.3,984.3 1665.3,984.5 1667.3,984.7 1669.3,984.9 1671.3,985.1 1673.3,985.3 1675.3,985.5 1677.3,985.7 1679.3,985.9 1681.3,986.1 1683.3,986.3 1685.3,986.5 1687.3,986.7 1689.3,986.9 1691.3,987.1 1693.3,987.3 1695.3,987.5 1697.3,987.7 1699.3,987.9 1701.3,988.1 1703.3,988.3 1705.3,988.5 1707.3,988.7 1709.3,988.9 1711.3,989.1 1713.3,989.3 1715.3,989.4 1717.3,989.6 1719.3,989.8 1721.3,989.9 1723.3,990.0 1725.3,990.1 1727.3,990.2 1729.3,990.3 1731.3,990.4 1733.3,990.5 1735.3,990.6 1737.3,990.7 1739.3,990.8 1741.3,990.9 1743.3,991.0 1745.3,991.1 1747.3,991.2 1749.3,991.3 1749.3,1001.9 1738.7,1001.9 1736.7,1001.8 1734.7,1001.7 1732.7,1001.6 1730.7,1001.5 1728.7,1001.4 1726.7,1001.3 1724.7,1001.2 1722.7,1001.1 1720.7,1001.0 1718.7,1000.9 1716.7,1000.8 1714.7,1000.7 1712.7,1000.6 1710.7,1000.5 1708.7,1000.4 1706.7,1000.2 1704.7,1000.0 1702.7,999.9 1700.7,999.7 1698.7,999.5 1696.7,999.3 1694.7,999.1 1692.7,998.9 1690.7,998.7 1688.7,998.5 1686.7,998.3 1684.7,998.1 1682.7,997.9 1680.7,997.7 1678.7,997.5 1676.7,997.3 1674.7,997.1 1672.7,996.9 1670.7,996.7 1668.7,996.5 1666.7,996.3 1664.7,996.1 1662.7,995.9 1660.7,995.7 1658.7,995.5 1656.7,995.3 1654.7,995.1 1652.7,994.9 1650.7,994.7 1648.7,994.5 1646.7,994.3 1644.7,994.1 1642.7,993.9 1640.7,993.7 1638.7,993.5 1636.7,993.3 1634.7,993.1 1632.7,992.9 1630.7,992.7 1628.7,992.5 1626.7,992.3 1624.7,992.1 1622.7,991.8 1620.7,991.6 1618.7,991.4 1616.7,991.2 1614.7,991.0 1612.7,990.8 1610.7,990.5 1608.7,990.3 1606.7,990.1 1604.7,989.9 1602.7,989.7 1600.7,989.5 1598.7,989.2 1596.7,989.0 1594.7,988.8 1592.7,988.6 1590.7,988.4 1588.7,988.2 1586.7,987.9 1584.7,987.7 1582.7,987.5 1580.7,987.3 1578.7,987.1 1576.7,986.9 1574.7,986.7 1572.7,986.4 1570.7,986.2 1568.7,986.0 1566.7,985.8 1564.7,985.6 1562.7,985.4 1560.7,985.1 1558.7,984.9 1556.7,984.7 1554.7,984.5 1552.7,984.3 1550.7,984.1 1548.7,983.9 1546.7,983.7 1544.7,983.4 1542.7,983.2 1540.7,983.0 1538.7,982.8 1536.7,982.6 1534.7,982.4 1532.7,982.2 1530.7,982.0 1528.7,981.8 1526.7,981.6 1524.7,981.3 1522.7,981.1 1520.7,980.9 1518.7,980.7 1516.7,980.5 1514.7,980.4 1512.7,980.2 1510.7,980.0 1508.7,979.9 1506.7,979.7 1504.7,979.6 1502.7,979.4 1500.7,979.3 1498.7,979.1 1496.7,979.0 1494.7,978.9 1492.7,978.7 1490.7,978.6 1488.7,978.4 1486.7,978.3 1484.7,978.1 1482.7,978.0 1480.7,977.8 1478.7,977.7 1476.7,977.5 1474.7,977.4 1472.7,977.2 1470.7,977.1 1468.7,976.9 1466.7,976.7 1464.7,976.6 1462.7,976.4 1460.7,976.2 1458.7,976.1 1456.7,975.9 1454.7,975.7 1452.7,975.6 1450.7,975.4 1448.7,975.2 1446.7,975.1 1444.7,974.9 1442.7,974.7 1440.7,974.5 1438.7,974.3 1436.7,974.1 1434.7,973.9 1432.7,973.7 1430.7,973.4 1428.7,973.1 1426.7,972.9 1424.7,972.6 1422.7,972.3 1420.7,972.0 1418.7,971.7 1416.7,971.4 1414.7,971.1 1412.7,970.8 1410.7,970.5 1408.7,970.2 1406.7,969.9 1404.7,969.6 1402.7,969.3 1400.7,969.0 1398.7,968.7 1396.7,968.5 1394.7,968.2 1392.7,968.0 1390.7,967.7 1388.7,967.5 1386.7,967.2 1384.7,967.0 1382.7,966.8 1380.7,966.6 1378.7,966.3 1376.7,966.1 1374.7,965.9 1372.7,965.7 1370.7,965.5 1368.7,965.2 1366.7,965.0 1364.7,964.8 1362.7,964.6 1360.7,964.4 1358.7,964.1 1356.7,963.9 1354.7,963.7 1352.7,963.5 1350.7,963.2 1348.7,963.0 1346.7,962.8 1344.7,962.5 1342.7,962.3 1340.7,962.0 1338.7,961.8 1336.7,961.5 1334.7,961.3 1332.7,961.0 1330.7,960.8 1328.7,960.5 1326.7,960.2 1324.7,960.0 1322.7,959.7 1320.7,959.4 1318.7,959.2 1316.7,958.9 1314.7,958.6 1312.7,958.4 1310.7,958.1 1308.7,957.8 1306.7,957.6 1304.7,957.3 1302.7,957.0 1300.7,956.7 1298.7,956.4 1296.7,956.1 1294.7,955.8 1292.7,955.5 1290.7,955.1 1288.7,954.7 1286.7,954.4 1284.7,954.0 1282.7,953.6 1280.7,953.2 1278.7,952.8 1276.7,952.4 1274.7,952.0 1272.7,951.6 1270.7,951.2 1268.7,950.7 1266.7,950.3 1264.7,949.9 1262.7,949.5 1260.7,949.1 1258.7,948.7 1256.7,948.3 1254.7,947.9 1252.7,947.5 1250.7,947.1 1248.7,946.8 1246.7,946.4 1244.7,946.0 1242.7,945.7 1240.7,945.3 1238.7,945.0 1236.7,944.7 1234.7,944.4 1232.7,944.1 1230.7,943.7 1228.7,943.4 1226.7,943.1 1224.7,942.8 1222.7,942.5 1220.7,942.2 1218.7,941.9 1216.7,941.6 1214.7,941.3 1212.7,941.0 1210.7,940.7 1208.7,940.4 1206.7,940.0 1204.7,939.7 1202.7,939.4 1200.7,939.1 1198.7,938.8 1196.7,938.5 1194.7,938.2 1192.7,938.0 1190.7,937.7 1188.7,937.4 1186.7,937.1 1184.7,936.8 1182.7,936.5 1180.7,936.3 1178.7,936.0 1176.7,935.7 1174.7,935.4 1172.7,935.2 1170.7,934.9 1168.7,934.6 1166.7,934.3 1164.7,934.1 1162.7,933.8 1160.7,933.5 1158.7,933.2 1156.7,933.0 1154.7,932.7 1152.7,932.4 1150.7,932.1 1148.7,931.8 1146.7,931.5 1144.7,931.2 1142.7,930.9 1140.7,930.6 1138.7,930.3 1136.7,930.0 1134.7,929.7 1132.7,929.4 1130.7,929.0 1128.7,928.7 1126.7,928.4 1124.7,928.1 1122.7,927.7 1120.7,927.4 1118.7,927.1 1116.7,926.8 1114.7,926.4 1112.7,926.1 1110.7,925.8 1108.7,925.5 1106.7,925.1 1104.7,924.8 1102.7,924.5 1100.7,924.2 1098.7,923.9 1096.7,923.5 1094.7,923.2 1092.7,922.9 1090.7,922.6 1088.7,922.3 1086.7,922.0 1084.7,921.7 1082.7,921.4 1080.7,921.0 1078.7,920.7 1076.7,920.4 1074.7,920.1 1072.7,919.8 1070.7,919.5 1068.7,919.2 1066.7,918.9 1064.7,918.6 1062.7,918.3 1060.7,918.0 1058.7,917.7 1056.7,917.3 1054.7,917.0 1052.7,916.7 1050.7,916.4 1048.7,916.1 1046.7,915.8 1044.7,915.5 1042.7,915.1 1040.7,914.8 1038.7,914.5 1036.7,914.1 1034.7,913.8 1032.7,913.4 1030.7,913.1 1028.7,912.7 1026.7,912.4 1024.7,912.1 1022.7,911.7 1020.7,911.4 1018.7,911.0 1016.7,910.7 1014.7,910.3 1012.7,910.0 1010.7,909.6 1008.7,909.3 1006.7,909.0 1004.7,908.6 1002.7,908.2 1000.7,907.9 998.7,907.5 996.7,907.1 994.7,906.7 992.7,906.2 990.7,905.8 988.7,905.3 986.7,904.8 984.7,904.4 982.7,903.9 980.7,903.4 978.7,902.9 976.7,902.4 974.7,901.9 972.7,901.4 970.7,900.9 968.7,900.3 966.7,899.8 964.7,899.3 962.7,898.8 960.7,898.3 958.7,897.8 956.7,897.3 954.7,896.8 952.7,896.3 950.7,895.9 948.7,895.4 946.7,894.9 944.7,894.5 942.7,894.0 940.7,893.6 938.7,893.2 936.7,892.8 934.7,892.4 932.7,892.1 930.7,891.7 928.7,891.3 926.7,890.9 924.7,890.5 922.7,890.2 920.7,889.8 918.7,889.4 916.7,889.0 914.7,888.7 912.7,888.3 910.7,887.9 908.7,887.5 906.7,887.1 904.7,886.8 902.7,886.4 900.7,886.0 898.7,885.6 896.7,885.2 894.7,884.7 892.7,884.3 890.7,883.8 888.7,883.4 886.7,882.9 884.7,882.4 882.7,881.9 880.7,881.4 878.7,880.9 876.7,880.4 874.7,879.9 872.7,879.4 870.7,878.9 868.7,878.4 866.7,877.8 864.7,877.3 862.7,876.8 860.7,876.3 858.7,875.7 856.7,875.2 854.7,874.6 852.7,874.1 850.7,873.5 848.7,873.0 846.7,872.4 844.7,871.8 842.7,871.3 840.7,870.7 838.7,870.2 836.7,869.6 834.7,869.1 832.7,868.5 830.7,867.9 828.7,867.4 826.7,866.8 824.7,866.3 822.7,865.7 820.7,865.2 818.7,864.6 816.7,864.0 814.7,863.4 812.7,862.9 810.7,862.3 808.7,861.7 806.7,861.1 804.7,860.5 802.7,859.9 800.7,859.4 798.7,858.8 796.7,858.2 794.7,857.6 792.7,857.0 790.7,856.4 788.7,855.8 786.7,855.2 784.7,854.6 782.7,854.0 780.7,853.4 778.7,852.8 776.7,852.2 774.7,851.7 772.7,851.1 770.7,850.5 768.7,849.9 766.7,849.3 764.7,848.7 762.7,848.0 760.7,847.4 758.7,846.8 756.7,846.2 754.7,845.5 752.7,844.9 750.7,844.2 748.7,843.6 746.7,842.9 744.7,842.3 742.7,841.6 740.7,841.0 738.7,840.3 736.7,839.6 734.7,839.0 732.7,838.3 730.7,837.7 728.7,837.0 726.7,836.3 724.7,835.7 722.7,835.0 720.7,834.4 718.7,833.7 716.7,833.1 714.7,832.5 712.7,831.8 710.7,831.2 708.7,830.6 706.7,829.9 704.7,829.3 702.7,828.7 700.7,828.1 698.7,827.5 696.7,826.9 694.7,826.2 692.7,825.6 690.7,825.0 688.7,824.4 686.7,823.8 684.7,823.2 682.7,822.5 680.7,821.9 678.7,821.3 676.7,820.7 674.7,820.1 672.7,819.4 670.7,818.8 668.7,818.2 666.7,817.5 664.7,816.8 662.7,816.1 660.7,815.4 658.7,814.7 656.7,814.0 654.7,813.3 652.7,812.5 650.7,811.8 648.7,811.0 646.7,810.3 644.7,809.6 642.7,808.8 640.7,808.1 638.7,807.3 636.7,806.6 634.7,805.8 632.7,805.1 630.7,804.4 628.7,803.6 626.7,802.9 624.7,802.1 622.7,801.4 620.7,800.6 618.7,799.9 616.7,799.1 614.7,798.3 612.7,797.6 610.7,796.8 608.7,796.0 606.7,795.3 604.7,794.5 602.7,793.7 600.7,792.9 598.7,792.1 596.7,791.4 594.7,790.6 592.7,789.8 590.7,789.0 588.7,788.2 586.7,787.4 584.7,786.7 582.7,785.9 580.7,785.1 578.7,784.3 576.7,783.5 574.7,782.7 572.7,781.9 570.7,781.1 568.7,780.3 566.7,779.5 564.7,778.7 562.7,777.9 560.7,777.1 558.7,776.3 556.7,775.5 554.7,774.7 552.7,773.9 550.7,773.0 548.7,772.2 546.7,771.3 544.7,770.3 542.7,769.4 540.7,768.4 538.7,767.4 536.7,766.4 534.7,765.3 532.7,764.3 530.7,763.3 528.7,762.2 526.7,761.2 524.7,760.1 522.7,759.1 520.7,758.0 518.7,757.0 516.7,756.0 514.7,755.0 512.7,754.0 510.7,753.0 508.7,752.1 506.7,751.2 504.7,750.3 502.7,749.4 500.7,748.5 498.7,747.6 496.7,746.8 494.7,745.9 492.7,745.1 490.7,744.2 488.7,743.4 486.7,742.5 484.7,741.7 482.7,740.8 480.7,740.0 478.7,739.2 476.7,738.4 474.7,737.6 472.7,736.8 470.7,736.0 468.7,735.2 466.7,734.4 464.7,733.6 462.7,732.7 460.7,731.8 458.7,730.8 456.7,729.8 454.7,728.6 452.7,727.4 450.7,726.2 448.7,724.9 446.7,723.7 444.7,722.4 442.7,721.2 440.7,720.0 438.7,718.8 436.7,717.6 434.7,716.5 432.7,715.3 430.7,714.2 428.7,713.0 426.7,711.8 424.7,710.7 422.7,709.5 420.7,708.4 418.7,707.3 416.7,706.1 414.7,705.0 412.7,704.0 410.7,702.9 408.7,701.8 406.7,700.7 404.7,699.6 402.7,698.4 400.7,697.3 398.7,696.1 396.7,694.9 394.7,693.7 392.7,692.6 390.7,691.4 388.7,690.3 386.7,689.3 384.7,688.2 382.7,687.2 380.7,686.3 378.7,685.3 376.7,684.3 374.7,683.2 372.7,682.0 370.7,680.8 368.7,679.8 366.7,678.9 364.7,678.1 362.7,677.3 360.7,676.4 358.7,675.5 356.7,674.5 354.7,673.4 352.7,672.2 350.7,670.9 348.7,669.6 346.7,668.3 344.7,666.9 342.7,665.6 340.7,664.3 338.7,662.8 336.7,661.2 334.7,659.6 332.7,657.9 330.7,656.3 328.7,654.7 326.7,653.1 324.7,651.4 322.7,649.7 320.7,647.8 318.7,645.9 316.7,643.8 314.7,641.6 312.7,639.3 310.7,637.1 308.7,635.1 306.7,633.3 304.7,631.1 302.7,628.6 300.7,625.8 298.7,623.1 296.7,620.7 294.7,618.4 292.7,616.4 290.7,614.4 288.7,612.3 286.7,610.0 284.7,607.8 282.7,605.9 280.7,604.2Z"/>
<path fill="#006ce4" d="M280.7,246.5 280.7,235.9 291.3,235.9 293.3,239.0 295.3,242.5 297.3,246.2 299.3,249.6 301.3,252.5 303.3,255.2 305.3,257.8 307.3,260.4 309.3,262.9 311.3,265.4 313.3,267.8 315.3,270.2 317.3,272.6 319.3,275.0 321.3,277.4 323.3,279.8 325.3,282.2 327.3,284.6 329.3,286.9 331.3,289.0 333.3,291.1 335.3,293.3 337.3,295.7 339.3,298.3 341.3,301.1 343.3,304.2 345.3,307.6 347.3,311.1 349.3,314.6 351.3,318.0 353.3,321.4 355.3,324.6 357.3,327.7 359.3,330.7 361.3,333.6 363.3,336.5 365.3,339.2 367.3,341.9 369.3,344.5 371.3,346.8 373.3,348.9 375.3,350.6 377.3,352.1 379.3,353.5 381.3,354.9 383.3,356.3 385.3,357.7 387.3,359.1 389.3,360.5 391.3,361.9 393.3,363.3 395.3,364.8 397.3,366.2 399.3,367.6 401.3,369.1 403.3,370.5 405.3,372.0 407.3,373.5 409.3,375.0 411.3,376.5 413.3,378.1 415.3,379.7 417.3,381.3 419.3,382.9 421.3,384.6 423.3,386.4 425.3,388.3 427.3,390.2 429.3,392.3 431.3,394.4 433.3,396.6 435.3,398.8 437.3,401.1 439.3,403.4 441.3,405.6 443.3,407.8 445.3,409.9 447.3,411.9 449.3,413.9 451.3,415.8 453.3,417.7 455.3,419.5 457.3,421.3 459.3,423.1 461.3,424.9 463.3,426.7 465.3,428.6 467.3,430.5 469.3,432.4 471.3,434.3 473.3,436.3 475.3,438.3 477.3,440.3 479.3,442.3 481.3,444.4 483.3,446.6 485.3,448.7 487.3,451.0 489.3,453.3 491.3,455.6 493.3,458.0 495.3,460.3 497.3,462.8 499.3,465.1 501.3,467.5 503.3,469.9 505.3,472.2 507.3,474.5 509.3,476.7 511.3,478.9 513.3,481.1 515.3,483.2 517.3,485.3 519.3,487.4 521.3,489.5 523.3,491.6 525.3,493.7 527.3,495.8 529.3,497.8 531.3,499.8 533.3,501.7 535.3,503.7 537.3,505.6 539.3,507.4 541.3,509.3 543.3,511.1 545.3,512.9 547.3,514.7 549.3,516.5 551.3,518.3 553.3,520.1 555.3,521.9 557.3,523.6 559.3,525.4 561.3,527.1 563.3,528.9 565.3,530.6 567.3,532.3 569.3,534.0 571.3,535.7 573.3,537.4 575.3,539.2 577.3,540.9 579.3,542.6 581.3,544.3 583.3,546.1 585.3,547.9 587.3,549.7 589.3,551.5 591.3,553.4 593.3,555.3 595.3,557.2 597.3,559.1 599.3,561.0 601.3,563.0 603.3,564.9 605.3,566.9 607.3,568.8 609.3,570.8 611.3,572.7 613.3,574.7 615.3,576.6 617.3,578.5 619.3,580.4 621.3,582.3 623.3,584.1 625.3,585.9 627.3,587.6 629.3,589.3 631.3,590.9 633.3,592.5 635.3,594.1 637.3,595.7 639.3,597.3 641.3,598.8 643.3,600.4 645.3,602.0 647.3,603.5 649.3,605.1 651.3,606.6 653.3,608.2 655.3,609.7 657.3,611.3 659.3,612.9 661.3,614.4 663.3,616.0 665.3,617.5 667.3,619.1 669.3,620.7 671.3,622.3 673.3,623.8 675.3,625.4 677.3,627.1 679.3,628.7 681.3,630.3 683.3,632.0 685.3,633.6 687.3,635.3 689.3,636.9 691.3,638.6 693.3,640.2 695.3,641.9 697.3,643.6 699.3,645.2 701.3,646.9 703.3,648.5 705.3,650.2 707.3,651.9 709.3,653.5 711.3,655.2 713.3,656.8 715.3,658.5 717.3,660.1 719.3,661.7 721.3,663.3 723.3,664.9 725.3,666.4 727.3,667.9 729.3,669.4 731.3,670.8 733.3,672.3 735.3,673.7 737.3,675.1 739.3,676.5 741.3,677.9 743.3,679.3 745.3,680.6 747.3,682.0 749.3,683.4 751.3,684.8 753.3,686.2 755.3,687.6 757.3,688.9 759.3,690.3 761.3,691.7 763.3,693.1 765.3,694.5 767.3,695.8 769.3,697.2 771.3,698.5 773.3,699.9 775.3,701.2 777.3,702.5 779.3,703.8 781.3,705.1 783.3,706.3 785.3,707.6 787.3,708.8 789.3,710.0 791.3,711.3 793.3,712.5 795.3,713.8 797.3,715.0 799.3,716.2 801.3,717.5 803.3,718.7 805.3,719.9 807.3,721.2 809.3,722.4 811.3,723.6 813.3,724.9 815.3,726.1 817.3,727.3 819.3,728.5 821.3,729.7 823.3,730.9 825.3,732.0 827.3,733.2 829.3,734.3 831.3,735.4 833.3,736.5 835.3,737.5 837.3,738.6 839.3,739.7 841.3,740.7 843.3,741.8 845.3,742.8 847.3,743.9 849.3,744.9 851.3,746.0 853.3,747.0 855.3,748.1 857.3,749.1 859.3,750.2 861.3,751.2 863.3,752.3 865.3,753.3 867.3,754.3 869.3,755.4 871.3,756.4 873.3,757.4 875.3,758.3 877.3,759.3 879.3,760.2 881.3,761.1 883.3,762.0 885.3,762.8 887.3,763.7 889.3,764.6 891.3,765.4 893.3,766.3 895.3,767.1 897.3,768.0 899.3,768.8 901.3,769.7 903.3,770.5 905.3,771.4 907.3,772.2 909.3,773.1 911.3,773.9 913.3,774.8 915.3,775.7 917.3,776.5 919.3,777.4 921.3,778.3 923.3,779.2 925.3,780.1 927.3,781.0 929.3,781.9 931.3,782.9 933.3,783.8 935.3,784.8 937.3,785.8 939.3,786.7 941.3,787.7 943.3,788.7 945.3,789.7 947.3,790.6 949.3,791.6 951.3,792.6 953.3,793.6 955.3,794.5 957.3,795.5 959.3,796.5 961.3,797.5 963.3,798.4 965.3,799.4 967.3,800.3 969.3,801.3 971.3,802.2 973.3,803.1 975.3,804.0 977.3,804.8 979.3,805.6 981.3,806.4 983.3,807.2 985.3,807.9 987.3,808.7 989.3,809.4 991.3,810.1 993.3,810.9 995.3,811.6 997.3,812.3 999.3,813.0 1001.3,813.8 1003.3,814.5 1005.3,815.2 1007.3,815.9 1009.3,816.7 1011.3,817.4 1013.3,818.1 1015.3,818.9 1017.3,819.6 1019.3,820.3 1021.3,821.0 1023.3,821.7 1025.3,822.4 1027.3,823.1 1029.3,823.8 1031.3,824.5 1033.3,825.2 1035.3,825.9 1037.3,826.6 1039.3,827.3 1041.3,827.9 1043.3,828.6 1045.3,829.3 1047.3,830.0 1049.3,830.7 1051.3,831.3 1053.3,832.0 1055.3,832.7 1057.3,833.4 1059.3,834.1 1061.3,834.7 1063.3,835.4 1065.3,836.1 1067.3,836.8 1069.3,837.5 1071.3,838.1 1073.3,838.8 1075.3,839.5 1077.3,840.1 1079.3,840.8 1081.3,841.5 1083.3,842.1 1085.3,842.8 1087.3,843.5 1089.3,844.1 1091.3,844.8 1093.3,845.4 1095.3,846.1 1097.3,846.8 1099.3,847.4 1101.3,848.1 1103.3,848.7 1105.3,849.4 1107.3,850.1 1109.3,850.7 1111.3,851.4 1113.3,852.0 1115.3,852.7 1117.3,853.3 1119.3,854.0 1121.3,854.6 1123.3,855.3 1125.3,855.9 1127.3,856.5 1129.3,857.1 1131.3,857.7 1133.3,858.3 1135.3,858.8 1137.3,859.4 1139.3,860.0 1141.3,860.6 1143.3,861.1 1145.3,861.7 1147.3,862.3 1149.3,862.8 1151.3,863.4 1153.3,864.0 1155.3,864.5 1157.3,865.1 1159.3,865.7 1161.3,866.3 1163.3,866.8 1165.3,867.4 1167.3,868.0 1169.3,868.5 1171.3,869.1 1173.3,869.7 1175.3,870.3 1177.3,870.8 1179.3,871.4 1181.3,872.0 1183.3,872.5 1185.3,873.1 1187.3,873.7 1189.3,874.2 1191.3,874.8 1193.3,875.4 1195.3,875.9 1197.3,876.5 1199.3,877.1 1201.3,877.6 1203.3,878.2 1205.3,878.7 1207.3,879.3 1209.3,879.8 1211.3,880.3 1213.3,880.9 1215.3,881.4 1217.3,881.9 1219.3,882.4 1221.3,882.9 1223.3,883.4 1225.3,884.0 1227.3,884.5 1229.3,885.0 1231.3,885.5 1233.3,886.0 1235.3,886.5 1237.3,887.1 1239.3,887.6 1241.3,888.1 1243.3,888.6 1245.3,889.1 1247.3,889.6 1249.3,890.1 1251.3,890.6 1253.3,891.1 1255.3,891.5 1257.3,892.0 1259.3,892.4 1261.3,892.9 1263.3,893.3 1265.3,893.7 1267.3,894.1 1269.3,894.5 1271.3,894.9 1273.3,895.3 1275.3,895.7 1277.3,896.1 1279.3,896.5 1281.3,897.0 1283.3,897.4 1285.3,897.8 1287.3,898.2 1289.3,898.6 1291.3,899.0 1293.3,899.4 1295.3,899.8 1297.3,900.2 1299.3,900.6 1301.3,901.0 1303.3,901.4 1305.3,901.9 1307.3,902.3 1309.3,902.8 1311.3,903.2 1313.3,903.7 1315.3,904.1 1317.3,904.6 1319.3,905.0 1321.3,905.5 1323.3,905.9 1325.3,906.4 1327.3,906.9 1329.3,907.3 1331.3,907.8 1333.3,908.2 1335.3,908.7 1337.3,909.1 1339.3,909.6 1341.3,910.0 1343.3,910.4 1345.3,910.9 1347.3,911.3 1349.3,911.7 1351.3,912.1 1353.3,912.6 1355.3,913.0 1357.3,913.4 1359.3,913.8 1361.3,914.2 1363.3,914.7 1365.3,915.1 1367.3,915.5 1369.3,915.9 1371.3,916.3 1373.3,916.8 1375.3,917.2 1377.3,917.6 1379.3,918.0 1381.3,918.4 1383.3,918.8 1385.3,919.3 1387.3,919.7 1389.3,920.1 1391.3,920.4 1393.3,920.8 1395.3,921.2 1397.3,921.5 1399.3,921.9 1401.3,922.2 1403.3,922.6 1405.3,922.9 1407.3,923.2 1409.3,923.5 1411.3,923.8 1413.3,924.1 1415.3,924.4 1417.3,924.7 1419.3,925.1 1421.3,925.4 1423.3,925.7 1425.3,926.0 1427.3,926.3 1429.3,926.6 1431.3,926.9 1433.3,927.2 1435.3,927.6 1437.3,927.9 1439.3,928.2 1441.3,928.5 1443.3,928.8 1445.3,929.1 1447.3,929.4 1449.3,929.7 1451.3,930.0 1453.3,930.3 1455.3,930.6 1457.3,930.9 1459.3,931.2 1461.3,931.5 1463.3,931.8 1465.3,932.1 1467.3,932.4 1469.3,932.7 1471.3,933.0 1473.3,933.3 1475.3,933.6 1477.3,933.9 1479.3,934.2 1481.3,934.5 1483.3,934.9 1485.3,935.2 1487.3,935.5 1489.3,935.9 1491.3,936.3 1493.3,936.6 1495.3,937.0 1497.3,937.4 1499.3,937.8 1501.3,938.1 1503.3,938.5 1505.3,938.9 1507.3,939.3 1509.3,939.6 1511.3,940.0 1513.3,940.4 1515.3,940.7 1517.3,941.1 1519.3,941.5 1521.3,941.8 1523.3,942.2 1525.3,942.5 1527.3,942.8 1529.3,943.1 1531.3,943.3 1533.3,943.6 1535.3,943.8 1537.3,944.1 1539.3,944.3 1541.3,944.5 1543.3,944.8 1545.3,945.0 1547.3,945.3 1549.3,945.5 1551.3,945.7 1553.3,946.0 1555.3,946.2 1557.3,946.5 1559.3,946.7 1561.3,947.0 1563.3,947.2 1565.3,947.5 1567.3,947.8 1569.3,948.1 1571.3,948.4 1573.3,948.7 1575.3,949.0 1577.3,949.2 1579.3,949.5 1581.3,949.8 1583.3,950.1 1585.3,950.4 1587.3,950.7 1589.3,951.0 1591.3,951.3 1593.3,951.6 1595.3,951.9 1597.3,952.1 1599.3,952.4 1601.3,952.7 1603.3,953.0 1605.3,953.4 1607.3,953.7 1609.3,954.0 1611.3,954.4 1613.3,954.8 1615.3,955.1 1617.3,955.5 1619.3,955.9 1621.3,956.2 1623.3,956.6 1625.3,957.0 1627.3,957.4 1629.3,957.7 1631.3,958.1 1633.3,958.5 1635.3,958.8 1637.3,959.2 1639.3,959.6 1641.3,959.9 1643.3,960.3 1645.3,960.6 1647.3,960.9 1649.3,961.3 1651.3,961.6 1653.3,961.9 1655.3,962.2 1657.3,962.6 1659.3,962.9 1661.3,963.2 1663.3,963.6 1665.3,963.9 1667.3,964.2 1669.3,964.6 1671.3,964.9 1673.3,965.2 1675.3,965.5 1677.3,965.8 1679.3,966.1 1681.3,966.4 1683.3,966.6 1685.3,966.8 1687.3,967.0 1689.3,967.1 1691.3,967.3 1693.3,967.5 1695.3,967.7 1697.3,967.8 1699.3,968.0 1701.3,968.2 1703.3,968.3 1705.3,968.5 1707.3,968.7 1709.3,968.8 1711.3,969.0 1713.3,969.2 1715.3,969.3 1717.3,969.5 1719.3,969.6 1721.3,969.8 1723.3,969.9 1725.3,970.1 1727.3,970.2 1729.3,970.3 1731.3,970.5 1733.3,970.6 1735.3,970.7 1737.3,970.9 1739.3,971.0 1741.3,971.1 1743.3,971.2 1745.3,971.4 1747.3,971.5 1749.3,971.6 1749.3,982.2 1738.7,982.2 1736.7,982.1 1734.7,982.0 1732.7,981.8 1730.7,981.7 1728.7,981.6 1726.7,981.5 1724.7,981.3 1722.7,981.2 1720.7,981.1 1718.7,980.9 1716.7,980.8 1714.7,980.7 1712.7,980.5 1710.7,980.4 1708.7,980.2 1706.7,980.1 1704.7,979.9 1702.7,979.8 1700.7,979.6 1698.7,979.4 1696.7,979.3 1694.7,979.1 1692.7,978.9 1690.7,978.8 1688.7,978.6 1686.7,978.4 1684.7,978.3 1682.7,978.1 1680.7,977.9 1678.7,977.7 1676.7,977.6 1674.7,977.4 1672.7,977.2 1670.7,977.0 1668.7,976.7 1666.7,976.4 1664.7,976.1 1662.7,975.8 1660.7,975.5 1658.7,975.2 1656.7,974.8 1654.7,974.5 1652.7,974.2 1650.7,973.8 1648.7,973.5 1646.7,973.2 1644.7,972.8 1642.7,972.5 1640.7,972.2 1638.7,971.9 1636.7,971.5 1634.7,971.2 1632.7,970.9 1630.7,970.5 1628.7,970.2 1626.7,969.8 1624.7,969.4 1622.7,969.1 1620.7,968.7 1618.7,968.3 1616.7,968.0 1614.7,967.6 1612.7,967.2 1610.7,966.8 1608.7,966.5 1606.7,966.1 1604.7,965.7 1602.7,965.4 1600.7,965.0 1598.7,964.6 1596.7,964.3 1594.7,964.0 1592.7,963.6 1590.7,963.3 1588.7,963.0 1586.7,962.7 1584.7,962.5 1582.7,962.2 1580.7,961.9 1578.7,961.6 1576.7,961.3 1574.7,961.0 1572.7,960.7 1570.7,960.4 1568.7,960.1 1566.7,959.8 1564.7,959.6 1562.7,959.3 1560.7,959.0 1558.7,958.7 1556.7,958.4 1554.7,958.1 1552.7,957.8 1550.7,957.6 1548.7,957.3 1546.7,957.1 1544.7,956.8 1542.7,956.6 1540.7,956.3 1538.7,956.1 1536.7,955.9 1534.7,955.6 1532.7,955.4 1530.7,955.1 1528.7,954.9 1526.7,954.7 1524.7,954.4 1522.7,954.2 1520.7,953.9 1518.7,953.7 1516.7,953.4 1514.7,953.1 1512.7,952.8 1510.7,952.4 1508.7,952.1 1506.7,951.7 1504.7,951.3 1502.7,951.0 1500.7,950.6 1498.7,950.2 1496.7,949.9 1494.7,949.5 1492.7,949.1 1490.7,948.7 1488.7,948.4 1486.7,948.0 1484.7,947.6 1482.7,947.2 1480.7,946.9 1478.7,946.5 1476.7,946.1 1474.7,945.8 1472.7,945.5 1470.7,945.1 1468.7,944.8 1466.7,944.5 1464.7,944.2 1462.7,943.9 1460.7,943.6 1458.7,943.3 1456.7,943.0 1454.7,942.7 1452.7,942.4 1450.7,942.1 1448.7,941.8 1446.7,941.5 1444.7,941.2 1442.7,940.9 1440.7,940.6 1438.7,940.3 1436.7,940.0 1434.7,939.7 1432.7,939.4 1430.7,939.1 1428.7,938.8 1426.7,938.5 1424.7,938.2 1422.7,937.8 1420.7,937.5 1418.7,937.2 1416.7,936.9 1414.7,936.6 1412.7,936.3 1410.7,936.0 1408.7,935.7 1406.7,935.3 1404.7,935.0 1402.7,934.7 1400.7,934.4 1398.7,934.1 1396.7,933.8 1394.7,933.5 1392.7,933.2 1390.7,932.8 1388.7,932.5 1386.7,932.1 1384.7,931.8 1382.7,931.4 1380.7,931.0 1378.7,930.7 1376.7,930.3 1374.7,929.9 1372.7,929.4 1370.7,929.0 1368.7,928.6 1366.7,928.2 1364.7,927.8 1362.7,927.4 1360.7,926.9 1358.7,926.5 1356.7,926.1 1354.7,925.7 1352.7,925.3 1350.7,924.8 1348.7,924.4 1346.7,924.0 1344.7,923.6 1342.7,923.2 1340.7,922.7 1338.7,922.3 1336.7,921.9 1334.7,921.5 1332.7,921.0 1330.7,920.6 1328.7,920.2 1326.7,919.7 1324.7,919.3 1322.7,918.8 1320.7,918.4 1318.7,917.9 1316.7,917.5 1314.7,917.0 1312.7,916.5 1310.7,916.1 1308.7,915.6 1306.7,915.2 1304.7,914.7 1302.7,914.3 1300.7,913.8 1298.7,913.4 1296.7,912.9 1294.7,912.5 1292.7,912.0 1290.7,911.6 1288.7,911.2 1286.7,910.8 1284.7,910.4 1282.7,910.0 1280.7,909.6 1278.7,909.2 1276.7,908.8 1274.7,908.4 1272.7,908.0 1270.7,907.6 1268.7,907.1 1266.7,906.7 1264.7,906.3 1262.7,905.9 1260.7,905.5 1258.7,905.1 1256.7,904.7 1254.7,904.3 1252.7,903.9 1250.7,903.5 1248.7,903.0 1246.7,902.6 1244.7,902.1 1242.7,901.7 1240.7,901.2 1238.7,900.7 1236.7,900.2 1234.7,899.7 1232.7,899.2 1230.7,898.7 1228.7,898.2 1226.7,897.7 1224.7,897.1 1222.7,896.6 1220.7,896.1 1218.7,895.6 1216.7,895.1 1214.7,894.6 1212.7,894.0 1210.7,893.5 1208.7,893.0 1206.7,892.5 1204.7,892.0 1202.7,891.5 1200.7,890.9 1198.7,890.4 1196.7,889.9 1194.7,889.3 1192.7,888.8 1190.7,888.2 1188.7,887.7 1186.7,887.1 1184.7,886.5 1182.7,886.0 1180.7,885.4 1178.7,884.8 1176.7,884.3 1174.7,883.7 1172.7,883.1 1170.7,882.6 1168.7,882.0 1166.7,881.4 1164.7,880.9 1162.7,880.3 1160.7,879.7 1158.7,879.1 1156.7,878.6 1154.7,878.0 1152.7,877.4 1150.7,876.9 1148.7,876.3 1146.7,875.7 1144.7,875.1 1142.7,874.6 1140.7,874.0 1138.7,873.4 1136.7,872.9 1134.7,872.3 1132.7,871.7 1130.7,871.2 1128.7,870.6 1126.7,870.0 1124.7,869.4 1122.7,868.9 1120.7,868.3 1118.7,867.7 1116.7,867.1 1114.7,866.5 1112.7,865.9 1110.7,865.2 1108.7,864.6 1106.7,863.9 1104.7,863.3 1102.7,862.6 1100.7,862.0 1098.7,861.3 1096.7,860.7 1094.7,860.0 1092.7,859.3 1090.7,858.7 1088.7,858.0 1086.7,857.4 1084.7,856.7 1082.7,856.0 1080.7,855.4 1078.7,854.7 1076.7,854.1 1074.7,853.4 1072.7,852.7 1070.7,852.1 1068.7,851.4 1066.7,850.7 1064.7,850.1 1062.7,849.4 1060.7,848.7 1058.7,848.1 1056.7,847.4 1054.7,846.7 1052.7,846.0 1050.7,845.3 1048.7,844.7 1046.7,844.0 1044.7,843.3 1042.7,842.6 1040.7,841.9 1038.7,841.3 1036.7,840.6 1034.7,839.9 1032.7,839.2 1030.7,838.5 1028.7,837.9 1026.7,837.2 1024.7,836.5 1022.7,835.8 1020.7,835.1 1018.7,834.4 1016.7,833.7 1014.7,833.0 1012.7,832.3 1010.7,831.6 1008.7,830.9 1006.7,830.2 1004.7,829.5 1002.7,828.7 1000.7,828.0 998.7,827.3 996.7,826.5 994.7,825.8 992.7,825.1 990.7,824.4 988.7,823.6 986.7,822.9 984.7,822.2 982.7,821.5 980.7,820.7 978.7,820.0 976.7,819.3 974.7,818.5 972.7,817.8 970.7,817.0 968.7,816.2 966.7,815.4 964.7,814.6 962.7,813.7 960.7,812.8 958.7,811.9 956.7,810.9 954.7,810.0 952.7,809.0 950.7,808.1 948.7,807.1 946.7,806.1 944.7,805.1 942.7,804.2 940.7,803.2 938.7,802.2 936.7,801.2 934.7,800.3 932.7,799.3 930.7,798.3 928.7,797.3 926.7,796.4 924.7,795.4 922.7,794.4 920.7,793.5 918.7,792.5 916.7,791.6 914.7,790.7 912.7,789.8 910.7,788.9 908.7,788.0 906.7,787.1 904.7,786.3 902.7,785.4 900.7,784.5 898.7,783.7 896.7,782.8 894.7,782.0 892.7,781.1 890.7,780.3 888.7,779.4 886.7,778.6 884.7,777.7 882.7,776.9 880.7,776.0 878.7,775.2 876.7,774.3 874.7,773.4 872.7,772.6 870.7,771.7 868.7,770.8 866.7,769.9 864.7,768.9 862.7,768.0 860.7,767.0 858.7,766.0 856.7,764.9 854.7,763.9 852.7,762.9 850.7,761.8 848.7,760.8 846.7,759.7 844.7,758.7 842.7,757.6 840.7,756.6 838.7,755.5 836.7,754.5 834.7,753.4 832.7,752.4 830.7,751.3 828.7,750.3 826.7,749.2 824.7,748.1 822.7,747.1 820.7,746.0 818.7,744.9 816.7,743.8 814.7,742.6 812.7,741.5 810.7,740.3 808.7,739.1 806.7,737.9 804.7,736.7 802.7,735.5 800.7,734.2 798.7,733.0 796.7,731.8 794.7,730.5 792.7,729.3 790.7,728.1 788.7,726.8 786.7,725.6 784.7,724.4 782.7,723.1 780.7,721.9 778.7,720.6 776.7,719.4 774.7,718.2 772.7,716.9 770.7,715.7 768.7,714.4 766.7,713.1 764.7,711.8 762.7,710.5 760.7,709.1 758.7,707.8 756.7,706.4 754.7,705.1 752.7,703.7 750.7,702.3 748.7,700.9 746.7,699.5 744.7,698.2 742.7,696.8 740.7,695.4 738.7,694.0 736.7,692.6 734.7,691.2 732.7,689.9 730.7,688.5 728.7,687.1 726.7,685.7 724.7,684.3 722.7,682.9 720.7,681.4 718.7,680.0 716.7,678.5 714.7,677.0 712.7,675.5 710.7,673.9 708.7,672.3 706.7,670.7 704.7,669.1 702.7,667.4 700.7,665.8 698.7,664.1 696.7,662.5 694.7,660.8 692.7,659.1 690.7,657.5 688.7,655.8 686.7,654.2 684.7,652.5 682.7,650.8 680.7,649.2 678.7,647.5 676.7,645.9 674.7,644.2 672.7,642.6 670.7,640.9 668.7,639.3 666.7,637.7 664.7,636.0 662.7,634.4 660.7,632.9 658.7,631.3 656.7,629.7 654.7,628.1 652.7,626.6 650.7,625.0 648.7,623.5 646.7,621.9 644.7,620.3 642.7,618.8 640.7,617.2 638.7,615.7 636.7,614.1 634.7,612.6 632.7,611.0 630.7,609.4 628.7,607.9 626.7,606.3 624.7,604.7 622.7,603.1 620.7,601.5 618.7,599.9 616.7,598.2 614.7,596.5 612.7,594.7 610.7,592.9 608.7,591.0 606.7,589.1 604.7,587.2 602.7,585.3 600.7,583.3 598.7,581.4 596.7,579.4 594.7,577.5 592.7,575.5 590.7,573.6 588.7,571.6 586.7,569.7 584.7,567.8 582.7,565.9 580.7,564.0 578.7,562.1 576.7,560.3 574.7,558.5 572.7,556.7 570.7,554.9 568.7,553.2 566.7,551.5 564.7,549.8 562.7,548.0 560.7,546.3 558.7,544.6 556.7,542.9 554.7,541.2 552.7,539.5 550.7,537.7 548.7,536.0 546.7,534.2 544.7,532.5 542.7,530.7 540.7,528.9 538.7,527.1 536.7,525.3 534.7,523.5 532.7,521.7 530.7,519.9 528.7,518.0 526.7,516.2 524.7,514.3 522.7,512.3 520.7,510.4 518.7,508.4 516.7,506.4 514.7,504.3 512.7,502.2 510.7,500.1 508.7,498.0 506.7,495.9 504.7,493.8 502.7,491.7 500.7,489.5 498.7,487.3 496.7,485.1 494.7,482.8 492.7,480.5 490.7,478.1 488.7,475.7 486.7,473.4 484.7,470.9 482.7,468.6 480.7,466.2 478.7,463.9 476.7,461.6 474.7,459.3 472.7,457.2 470.7,455.0 468.7,452.9 466.7,450.9 464.7,448.9 462.7,446.9 460.7,444.9 458.7,443.0 456.7,441.1 454.7,439.2 452.7,437.3 450.7,435.5 448.7,433.7 446.7,431.9 444.7,430.1 442.7,428.3 440.7,426.4 438.7,424.5 436.7,422.5 434.7,420.5 432.7,418.4 430.7,416.2 428.7,414.0 426.7,411.7 424.7,409.4 422.7,407.2 420.7,405.0 418.7,402.9 416.7,400.8 414.7,398.9 412.7,397.0 410.7,395.2 408.7,393.5 406.7,391.9 404.7,390.3 402.7,388.7 400.7,387.1 398.7,385.6 396.7,384.1 394.7,382.6 392.7,381.1 390.7,379.7 388.7,378.2 386.7,376.8 384.7,375.4 382.7,373.9 380.7,372.5 378.7,371.1 376.7,369.7 374.7,368.3 372.7,366.9 370.7,365.5 368.7,364.1 366.7,362.7 364.7,361.2 362.7,359.5 360.7,357.4 358.7,355.1 356.7,352.5 354.7,349.8 352.7,347.1 350.7,344.2 348.7,341.3 346.7,338.3 344.7,335.2 342.7,332.0 340.7,328.6 338.7,325.2 336.7,321.7 334.7,318.2 332.7,314.8 330.7,311.7 328.7,308.9 326.7,306.3 324.7,303.9 322.7,301.7 320.7,299.6 318.7,297.5 316.7,295.2 314.7,292.8 312.7,290.4 310.7,288.0 308.7,285.6 306.7,283.2 304.7,280.8 302.7,278.4 300.7,276.0 298.7,273.5 296.7,271.0 294.7,268.4 292.7,265.8 290.7,263.1 288.7,260.2 286.7,256.8 284.7,253.1 282.7,249.6 280.7,246.5Z"/>
<path fill="#00ae5c" d="M280.6,201.0 280.6,190.2 291.4,190.2 293.4,195.1 295.4,199.3 297.4,202.5 299.4,205.1 301.4,207.5 303.4,209.9 305.4,212.3 307.4,214.7 309.4,217.1 311.4,219.4 313.4,221.6 315.4,223.7 317.4,225.8 319.4,228.2 321.4,230.6 323.4,233.1 325.4,235.7 327.4,238.4 329.4,241.3 331.4,244.0 333.4,246.4 335.4,248.7 337.4,251.1 339.4,253.6 341.4,255.9 343.4,258.2 345.4,260.4 347.4,262.4 349.4,264.1 351.4,265.4 353.4,266.6 355.4,267.7 357.4,268.9 359.4,270.4 361.4,272.1 363.4,274.0 365.4,276.0 367.4,278.1 369.4,280.1 371.4,282.1 373.4,284.2 375.4,286.2 377.4,288.3 379.4,290.4 381.4,292.5 383.4,294.6 385.4,296.4 387.4,298.0 389.4,299.4 391.4,300.5 393.4,301.6 395.4,302.7 397.4,304.0 399.4,305.2 401.4,306.5 403.4,307.8 405.4,309.2 407.4,310.5 409.4,311.9 411.4,313.4 413.4,314.8 415.4,316.3 417.4,317.9 419.4,319.4 421.4,321.0 423.4,322.6 425.4,324.2 427.4,325.8 429.4,327.4 431.4,329.0 433.4,330.6 435.4,332.2 437.4,333.9 439.4,335.6 441.4,337.2 443.4,338.9 445.4,340.6 447.4,342.3 449.4,344.0 451.4,345.7 453.4,347.4 455.4,349.0 457.4,350.5 459.4,352.1 461.4,353.6 463.4,355.1 465.4,356.5 467.4,358.0 469.4,359.5 471.4,360.9 473.4,362.4 475.4,363.9 477.4,365.5 479.4,367.0 481.4,368.5 483.4,370.1 485.4,371.7 487.4,373.3 489.4,375.0 491.4,376.7 493.4,378.5 495.4,380.3 497.4,382.1 499.4,384.0 501.4,385.9 503.4,387.8 505.4,389.7 507.4,391.6 509.4,393.5 511.4,395.4 513.4,397.3 515.4,399.2 517.4,401.1 519.4,403.0 521.4,404.9 523.4,406.8 525.4,408.8 527.4,410.7 529.4,412.6 531.4,414.5 533.4,416.4 535.4,418.3 537.4,420.2 539.4,422.1 541.4,424.0 543.4,425.9 545.4,427.8 547.4,429.7 549.4,431.6 551.4,433.5 553.4,435.4 555.4,437.2 557.4,439.0 559.4,440.7 561.4,442.4 563.4,444.0 565.4,445.6 567.4,447.2 569.4,448.7 571.4,450.2 573.4,451.6 575.4,453.1 577.4,454.6 579.4,456.1 581.4,457.5 583.4,459.0 585.4,460.5 587.4,462.0 589.4,463.5 591.4,465.0 593.4,466.5 595.4,468.0 597.4,469.6 599.4,471.1 601.4,472.7 603.4,474.3 605.4,475.9 607.4,477.6 609.4,479.2 611.4,480.9 613.4,482.6 615.4,484.4 617.4,486.1 619.4,487.8 621.4,489.5 623.4,491.2 625.4,492.9 627.4,494.5 629.4,496.2 631.4,497.8 633.4,499.4 635.4,501.0 637.4,502.6 639.4,504.2 641.4,505.8 643.4,507.4 645.4,509.0 647.4,510.6 649.4,512.3 651.4,513.9 653.4,515.6 655.4,517.3 657.4,518.9 659.4,520.6 661.4,522.3 663.4,524.0 665.4,525.7 667.4,527.3 669.4,529.0 671.4,530.7 673.4,532.4 675.4,534.0 677.4,535.7 679.4,537.3 681.4,538.9 683.4,540.6 685.4,542.2 687.4,543.8 689.4,545.4 691.4,547.1 693.4,548.7 695.4,550.3 697.4,551.9 699.4,553.5 701.4,555.2 703.4,556.8 705.4,558.4 707.4,560.0 709.4,561.6 711.4,563.3 713.4,564.9 715.4,566.5 717.4,568.1 719.4,569.7 721.4,571.3 723.4,572.9 725.4,574.5 727.4,576.0 729.4,577.6 731.4,579.2 733.4,580.7 735.4,582.2 737.4,583.8 739.4,585.3 741.4,586.9 743.4,588.4 745.4,589.9 747.4,591.5 749.4,593.0 751.4,594.5 753.4,596.0 755.4,597.6 757.4,599.1 759.4,600.6 761.4,602.2 763.4,603.7 765.4,605.2 767.4,606.8 769.4,608.3 771.4,609.8 773.4,611.3 775.4,612.9 777.4,614.4 779.4,615.9 781.4,617.4 783.4,618.9 785.4,620.4 787.4,621.9 789.4,623.4 791.4,624.9 793.4,626.4 795.4,627.9 797.4,629.4 799.4,630.9 801.4,632.4 803.4,633.9 805.4,635.4 807.4,636.9 809.4,638.4 811.4,639.9 813.4,641.4 815.4,642.9 817.4,644.4 819.4,645.8 821.4,647.3 823.4,648.7 825.4,650.1 827.4,651.5 829.4,652.9 831.4,654.2 833.4,655.5 835.4,656.9 837.4,658.2 839.4,659.5 841.4,660.8 843.4,662.1 845.4,663.4 847.4,664.7 849.4,666.0 851.4,667.2 853.4,668.5 855.4,669.8 857.4,671.1 859.4,672.4 861.4,673.7 863.4,675.0 865.4,676.3 867.4,677.6 869.4,678.8 871.4,680.1 873.4,681.3 875.4,682.5 877.4,683.7 879.4,684.9 881.4,686.0 883.4,687.1 885.4,688.2 887.4,689.3 889.4,690.4 891.4,691.5 893.4,692.6 895.4,693.7 897.4,694.8 899.4,695.9 901.4,697.0 903.4,698.1 905.4,699.2 907.4,700.3 909.4,701.4 911.4,702.5 913.4,703.5 915.4,704.6 917.4,705.7 919.4,706.8 921.4,707.8 923.4,708.9 925.4,709.9 927.4,710.9 929.4,711.9 931.4,712.9 933.4,713.9 935.4,714.9 937.4,715.8 939.4,716.8 941.4,717.7 943.4,718.7 945.4,719.7 947.4,720.6 949.4,721.6 951.4,722.5 953.4,723.5 955.4,724.4 957.4,725.4 959.4,726.4 961.4,727.3 963.4,728.3 965.4,729.2 967.4,730.2 969.4,731.1 971.4,732.0 973.4,733.0 975.4,733.9 977.4,734.8 979.4,735.7 981.4,736.7 983.4,737.6 985.4,738.5 987.4,739.3 989.4,740.2 991.4,741.1 993.4,742.0 995.4,742.9 997.4,743.8 999.4,744.7 1001.4,745.6 1003.4,746.5 1005.4,747.4 1007.4,748.3 1009.4,749.2 1011.4,750.1 1013.4,750.9 1015.4,751.8 1017.4,752.7 1019.4,753.6 1021.4,754.5 1023.4,755.4 1025.4,756.3 1027.4,757.1 1029.4,758.0 1031.4,758.9 1033.4,759.8 1035.4,760.6 1037.4,761.5 1039.4,762.4 1041.4,763.2 1043.4,764.1 1045.4,765.0 1047.4,765.8 1049.4,766.7 1051.4,767.6 1053.4,768.5 1055.4,769.3 1057.4,770.2 1059.4,771.1 1061.4,771.9 1063.4,772.8 1065.4,773.6 1067.4,774.5 1069.4,775.3 1071.4,776.1 1073.4,777.0 1075.4,777.7 1077.4,778.5 1079.4,779.2 1081.4,780.0 1083.4,780.7 1085.4,781.4 1087.4,782.1 1089.4,782.8 1091.4,783.4 1093.4,784.1 1095.4,784.8 1097.4,785.5 1099.4,786.2 1101.4,786.8 1103.4,787.5 1105.4,788.2 1107.4,788.9 1109.4,789.6 1111.4,790.2 1113.4,790.9 1115.4,791.6 1117.4,792.3 1119.4,793.0 1121.4,793.6 1123.4,794.3 1125.4,795.0 1127.4,795.7 1129.4,796.4 1131.4,797.1 1133.4,797.8 1135.4,798.5 1137.4,799.1 1139.4,799.8 1141.4,800.5 1143.4,801.2 1145.4,801.9 1147.4,802.6 1149.4,803.3 1151.4,804.0 1153.4,804.7 1155.4,805.4 1157.4,806.0 1159.4,806.7 1161.4,807.4 1163.4,808.1 1165.4,808.8 1167.4,809.5 1169.4,810.2 1171.4,810.9 1173.4,811.6 1175.4,812.3 1177.4,812.9 1179.4,813.6 1181.4,814.3 1183.4,815.0 1185.4,815.7 1187.4,816.4 1189.4,817.1 1191.4,817.8 1193.4,818.5 1195.4,819.1 1197.4,819.8 1199.4,820.5 1201.4,821.1 1203.4,821.8 1205.4,822.4 1207.4,823.1 1209.4,823.7 1211.4,824.3 1213.4,824.9 1215.4,825.4 1217.4,826.0 1219.4,826.6 1221.4,827.2 1223.4,827.7 1225.4,828.3 1227.4,828.9 1229.4,829.5 1231.4,830.0 1233.4,830.6 1235.4,831.2 1237.4,831.8 1239.4,832.3 1241.4,832.9 1243.4,833.5 1245.4,834.0 1247.4,834.6 1249.4,835.2 1251.4,835.8 1253.4,836.4 1255.4,837.0 1257.4,837.6 1259.4,838.2 1261.4,838.8 1263.4,839.4 1265.4,840.1 1267.4,840.7 1269.4,841.3 1271.4,842.0 1273.4,842.6 1275.4,843.2 1277.4,843.9 1279.4,844.5 1281.4,845.1 1283.4,845.7 1285.4,846.4 1287.4,847.0 1289.4,847.6 1291.4,848.3 1293.4,848.9 1295.4,849.5 1297.4,850.1 1299.4,850.8 1301.4,851.4 1303.4,851.9 1305.4,852.5 1307.4,853.1 1309.4,853.6 1311.4,854.2 1313.4,854.7 1315.4,855.2 1317.4,855.7 1319.4,856.2 1321.4,856.7 1323.4,857.2 1325.4,857.7 1327.4,858.2 1329.4,858.7 1331.4,859.2 1333.4,859.7 1335.4,860.2 1337.4,860.7 1339.4,861.2 1341.4,861.7 1343.4,862.2 1345.4,862.7 1347.4,863.2 1349.4,863.6 1351.4,864.1 1353.4,864.6 1355.4,865.1 1357.4,865.6 1359.4,866.1 1361.4,866.6 1363.4,867.0 1365.4,867.5 1367.4,868.0 1369.4,868.5 1371.4,869.0 1373.4,869.5 1375.4,869.9 1377.4,870.4 1379.4,870.9 1381.4,871.4 1383.4,871.9 1385.4,872.3 1387.4,872.8 1389.4,873.2 1391.4,873.7 1393.4,874.1 1395.4,874.5 1397.4,874.8 1399.4,875.2 1401.4,875.5 1403.4,875.8 1405.4,876.1 1407.4,876.4 1409.4,876.7 1411.4,877.0 1413.4,877.3 1415.4,877.6 1417.4,877.9 1419.4,878.2 1421.4,878.5 1423.4,878.7 1425.4,879.0 1427.4,879.3 1429.4,879.6 1431.4,879.9 1433.4,880.2 1435.4,880.5 1437.4,880.8 1439.4,881.1 1441.4,881.5 1443.4,881.8 1445.4,882.2 1447.4,882.6 1449.4,883.0 1451.4,883.4 1453.4,883.9 1455.4,884.3 1457.4,884.8 1459.4,885.2 1461.4,885.7 1463.4,886.2 1465.4,886.6 1467.4,887.1 1469.4,887.6 1471.4,888.1 1473.4,888.5 1475.4,889.0 1477.4,889.5 1479.4,889.9 1481.4,890.4 1483.4,890.9 1485.4,891.4 1487.4,891.9 1489.4,892.3 1491.4,892.8 1493.4,893.3 1495.4,893.8 1497.4,894.3 1499.4,894.8 1501.4,895.3 1503.4,895.8 1505.4,896.3 1507.4,896.8 1509.4,897.3 1511.4,897.8 1513.4,898.3 1515.4,898.8 1517.4,899.3 1519.4,899.8 1521.4,900.3 1523.4,900.7 1525.4,901.1 1527.4,901.5 1529.4,901.9 1531.4,902.2 1533.4,902.5 1535.4,902.8 1537.4,903.1 1539.4,903.4 1541.4,903.7 1543.4,904.0 1545.4,904.3 1547.4,904.6 1549.4,904.8 1551.4,905.1 1553.4,905.4 1555.4,905.7 1557.4,906.0 1559.4,906.4 1561.4,906.7 1563.4,907.0 1565.4,907.4 1567.4,907.8 1569.4,908.2 1571.4,908.6 1573.4,909.0 1575.4,909.4 1577.4,909.8 1579.4,910.2 1581.4,910.6 1583.4,911.0 1585.4,911.4 1587.4,911.8 1589.4,912.2 1591.4,912.7 1593.4,913.1 1595.4,913.5 1597.4,913.9 1599.4,914.3 1601.4,914.7 1603.4,915.1 1605.4,915.5 1607.4,915.9 1609.4,916.3 1611.4,916.7 1613.4,917.0 1615.4,917.4 1617.4,917.8 1619.4,918.2 1621.4,918.6 1623.4,919.0 1625.4,919.4 1627.4,919.7 1629.4,920.1 1631.4,920.5 1633.4,920.9 1635.4,921.3 1637.4,921.6 1639.4,922.0 1641.4,922.3 1643.4,922.6 1645.4,922.9 1647.4,923.1 1649.4,923.4 1651.4,923.6 1653.4,923.8 1655.4,924.1 1657.4,924.3 1659.4,924.5 1661.4,924.8 1663.4,925.0 1665.4,925.2 1667.4,925.5 1669.4,925.7 1671.4,925.9 1673.4,926.2 1675.4,926.4 1677.4,926.7 1679.4,927.0 1681.4,927.3 1683.4,927.7 1685.4,928.0 1687.4,928.4 1689.4,928.9 1691.4,929.3 1693.4,929.7 1695.4,930.1 1697.4,930.5 1699.4,930.9 1701.4,931.4 1703.4,931.8 1705.4,932.2 1707.4,932.6 1709.4,933.0 1711.4,933.4 1713.4,933.8 1715.4,934.2 1717.4,934.6 1719.4,934.8 1721.4,935.0 1723.4,935.2 1725.4,935.2 1727.4,935.3 1729.4,935.3 1731.4,935.3 1733.4,935.3 1735.4,935.4 1737.4,935.4 1739.4,935.4 1741.4,935.4 1743.4,935.4 1745.4,935.5 1747.4,935.5 1749.4,935.5 1749.4,946.3 1738.6,946.3 1736.6,946.3 1734.6,946.3 1732.6,946.2 1730.6,946.2 1728.6,946.2 1726.6,946.2 1724.6,946.2 1722.6,946.1 1720.6,946.1 1718.6,946.1 1716.6,946.1 1714.6,946.0 1712.6,946.0 1710.6,945.8 1708.6,945.6 1706.6,945.4 1704.6,945.0 1702.6,944.6 1700.6,944.2 1698.6,943.8 1696.6,943.4 1694.6,943.0 1692.6,942.6 1690.6,942.2 1688.6,941.7 1686.6,941.3 1684.6,940.9 1682.6,940.5 1680.6,940.1 1678.6,939.7 1676.6,939.2 1674.6,938.8 1672.6,938.5 1670.6,938.1 1668.6,937.8 1666.6,937.5 1664.6,937.2 1662.6,937.0 1660.6,936.7 1658.6,936.5 1656.6,936.3 1654.6,936.0 1652.6,935.8 1650.6,935.6 1648.6,935.3 1646.6,935.1 1644.6,934.9 1642.6,934.6 1640.6,934.4 1638.6,934.2 1636.6,933.9 1634.6,933.7 1632.6,933.4 1630.6,933.1 1628.6,932.8 1626.6,932.4 1624.6,932.1 1622.6,931.7 1620.6,931.3 1618.6,930.9 1616.6,930.5 1614.6,930.2 1612.6,929.8 1610.6,929.4 1608.6,929.0 1606.6,928.6 1604.6,928.2 1602.6,927.8 1600.6,927.5 1598.6,927.1 1596.6,926.7 1594.6,926.3 1592.6,925.9 1590.6,925.5 1588.6,925.1 1586.6,924.7 1584.6,924.3 1582.6,923.9 1580.6,923.5 1578.6,923.0 1576.6,922.6 1574.6,922.2 1572.6,921.8 1570.6,921.4 1568.6,921.0 1566.6,920.6 1564.6,920.2 1562.6,919.8 1560.6,919.4 1558.6,919.0 1556.6,918.6 1554.6,918.2 1552.6,917.8 1550.6,917.5 1548.6,917.2 1546.6,916.8 1544.6,916.5 1542.6,916.2 1540.6,915.9 1538.6,915.6 1536.6,915.4 1534.6,915.1 1532.6,914.8 1530.6,914.5 1528.6,914.2 1526.6,913.9 1524.6,913.6 1522.6,913.3 1520.6,913.0 1518.6,912.7 1516.6,912.3 1514.6,911.9 1512.6,911.5 1510.6,911.1 1508.6,910.6 1506.6,910.1 1504.6,909.6 1502.6,909.1 1500.6,908.6 1498.6,908.1 1496.6,907.6 1494.6,907.1 1492.6,906.6 1490.6,906.1 1488.6,905.6 1486.6,905.1 1484.6,904.6 1482.6,904.1 1480.6,903.6 1478.6,903.1 1476.6,902.7 1474.6,902.2 1472.6,901.7 1470.6,901.2 1468.6,900.7 1466.6,900.3 1464.6,899.8 1462.6,899.3 1460.6,898.9 1458.6,898.4 1456.6,897.9 1454.6,897.4 1452.6,897.0 1450.6,896.5 1448.6,896.0 1446.6,895.6 1444.6,895.1 1442.6,894.7 1440.6,894.2 1438.6,893.8 1436.6,893.4 1434.6,893.0 1432.6,892.6 1430.6,892.3 1428.6,891.9 1426.6,891.6 1424.6,891.3 1422.6,891.0 1420.6,890.7 1418.6,890.4 1416.6,890.1 1414.6,889.8 1412.6,889.5 1410.6,889.3 1408.6,889.0 1406.6,888.7 1404.6,888.4 1402.6,888.1 1400.6,887.8 1398.6,887.5 1396.6,887.2 1394.6,886.9 1392.6,886.6 1390.6,886.3 1388.6,886.0 1386.6,885.6 1384.6,885.3 1382.6,884.9 1380.6,884.5 1378.6,884.0 1376.6,883.6 1374.6,883.1 1372.6,882.7 1370.6,882.2 1368.6,881.7 1366.6,881.2 1364.6,880.7 1362.6,880.3 1360.6,879.8 1358.6,879.3 1356.6,878.8 1354.6,878.3 1352.6,877.8 1350.6,877.4 1348.6,876.9 1346.6,876.4 1344.6,875.9 1342.6,875.4 1340.6,874.9 1338.6,874.4 1336.6,874.0 1334.6,873.5 1332.6,873.0 1330.6,872.5 1328.6,872.0 1326.6,871.5 1324.6,871.0 1322.6,870.5 1320.6,870.0 1318.6,869.5 1316.6,869.0 1314.6,868.5 1312.6,868.0 1310.6,867.5 1308.6,867.0 1306.6,866.5 1304.6,866.0 1302.6,865.5 1300.6,865.0 1298.6,864.4 1296.6,863.9 1294.6,863.3 1292.6,862.7 1290.6,862.2 1288.6,861.6 1286.6,860.9 1284.6,860.3 1282.6,859.7 1280.6,859.1 1278.6,858.4 1276.6,857.8 1274.6,857.2 1272.6,856.5 1270.6,855.9 1268.6,855.3 1266.6,854.7 1264.6,854.0 1262.6,853.4 1260.6,852.8 1258.6,852.1 1256.6,851.5 1254.6,850.9 1252.6,850.2 1250.6,849.6 1248.6,849.0 1246.6,848.4 1244.6,847.8 1242.6,847.2 1240.6,846.6 1238.6,846.0 1236.6,845.4 1234.6,844.8 1232.6,844.3 1230.6,843.7 1228.6,843.1 1226.6,842.6 1224.6,842.0 1222.6,841.4 1220.6,840.8 1218.6,840.3 1216.6,839.7 1214.6,839.1 1212.6,838.5 1210.6,838.0 1208.6,837.4 1206.6,836.8 1204.6,836.2 1202.6,835.7 1200.6,835.1 1198.6,834.5 1196.6,833.9 1194.6,833.2 1192.6,832.6 1190.6,831.9 1188.6,831.3 1186.6,830.6 1184.6,829.9 1182.6,829.3 1180.6,828.6 1178.6,827.9 1176.6,827.2 1174.6,826.5 1172.6,825.8 1170.6,825.1 1168.6,824.4 1166.6,823.7 1164.6,823.1 1162.6,822.4 1160.6,821.7 1158.6,821.0 1156.6,820.3 1154.6,819.6 1152.6,818.9 1150.6,818.2 1148.6,817.5 1146.6,816.8 1144.6,816.1 1142.6,815.5 1140.6,814.8 1138.6,814.1 1136.6,813.4 1134.6,812.7 1132.6,812.0 1130.6,811.3 1128.6,810.6 1126.6,809.9 1124.6,809.3 1122.6,808.6 1120.6,807.9 1118.6,807.2 1116.6,806.5 1114.6,805.8 1112.6,805.1 1110.6,804.4 1108.6,803.8 1106.6,803.1 1104.6,802.4 1102.6,801.7 1100.6,801.0 1098.6,800.4 1096.6,799.7 1094.6,799.0 1092.6,798.3 1090.6,797.6 1088.6,797.0 1086.6,796.3 1084.6,795.6 1082.6,794.9 1080.6,794.2 1078.6,793.6 1076.6,792.9 1074.6,792.2 1072.6,791.5 1070.6,790.8 1068.6,790.0 1066.6,789.3 1064.6,788.5 1062.6,787.8 1060.6,786.9 1058.6,786.1 1056.6,785.3 1054.6,784.4 1052.6,783.6 1050.6,782.7 1048.6,781.9 1046.6,781.0 1044.6,780.1 1042.6,779.3 1040.6,778.4 1038.6,777.5 1036.6,776.6 1034.6,775.8 1032.6,774.9 1030.6,774.0 1028.6,773.2 1026.6,772.3 1024.6,771.4 1022.6,770.6 1020.6,769.7 1018.6,768.8 1016.6,767.9 1014.6,767.1 1012.6,766.2 1010.6,765.3 1008.6,764.4 1006.6,763.5 1004.6,762.6 1002.6,761.7 1000.6,760.9 998.6,760.0 996.6,759.1 994.6,758.2 992.6,757.3 990.6,756.4 988.6,755.5 986.6,754.6 984.6,753.7 982.6,752.8 980.6,751.9 978.6,751.0 976.6,750.1 974.6,749.3 972.6,748.4 970.6,747.5 968.6,746.5 966.6,745.6 964.6,744.7 962.6,743.8 960.6,742.8 958.6,741.9 956.6,741.0 954.6,740.0 952.6,739.1 950.6,738.1 948.6,737.2 946.6,736.2 944.6,735.2 942.6,734.3 940.6,733.3 938.6,732.4 936.6,731.4 934.6,730.5 932.6,729.5 930.6,728.5 928.6,727.6 926.6,726.6 924.6,725.7 922.6,724.7 920.6,723.7 918.6,722.7 916.6,721.7 914.6,720.7 912.6,719.7 910.6,718.6 908.6,717.6 906.6,716.5 904.6,715.4 902.6,714.3 900.6,713.3 898.6,712.2 896.6,711.1 894.6,710.0 892.6,708.9 890.6,707.8 888.6,706.7 886.6,705.6 884.6,704.5 882.6,703.4 880.6,702.3 878.6,701.2 876.6,700.1 874.6,699.0 872.6,697.9 870.6,696.8 868.6,695.7 866.6,694.5 864.6,693.3 862.6,692.1 860.6,690.9 858.6,689.6 856.6,688.4 854.6,687.1 852.6,685.8 850.6,684.5 848.6,683.2 846.6,681.9 844.6,680.6 842.6,679.3 840.6,678.0 838.6,676.8 836.6,675.5 834.6,674.2 832.6,672.9 830.6,671.6 828.6,670.3 826.6,669.0 824.6,667.7 822.6,666.3 820.6,665.0 818.6,663.7 816.6,662.3 814.6,660.9 812.6,659.5 810.6,658.1 808.6,656.6 806.6,655.2 804.6,653.7 802.6,652.2 800.6,650.7 798.6,649.2 796.6,647.7 794.6,646.2 792.6,644.7 790.6,643.2 788.6,641.7 786.6,640.2 784.6,638.7 782.6,637.2 780.6,635.7 778.6,634.2 776.6,632.7 774.6,631.2 772.6,629.7 770.6,628.2 768.6,626.7 766.6,625.2 764.6,623.7 762.6,622.1 760.6,620.6 758.6,619.1 756.6,617.6 754.6,616.0 752.6,614.5 750.6,613.0 748.6,611.4 746.6,609.9 744.6,608.4 742.6,606.8 740.6,605.3 738.6,603.8 736.6,602.3 734.6,600.7 732.6,599.2 730.6,597.7 728.6,596.1 726.6,594.6 724.6,593.0 722.6,591.5 720.6,590.0 718.6,588.4 716.6,586.8 714.6,585.3 712.6,583.7 710.6,582.1 708.6,580.5 706.6,578.9 704.6,577.3 702.6,575.7 700.6,574.1 698.6,572.4 696.6,570.8 694.6,569.2 692.6,567.6 690.6,566.0 688.6,564.3 686.6,562.7 684.6,561.1 682.6,559.5 680.6,557.9 678.6,556.2 676.6,554.6 674.6,553.0 672.6,551.4 670.6,549.7 668.6,548.1 666.6,546.5 664.6,544.8 662.6,543.2 660.6,541.5 658.6,539.8 656.6,538.1 654.6,536.5 652.6,534.8 650.6,533.1 648.6,531.4 646.6,529.7 644.6,528.1 642.6,526.4 640.6,524.7 638.6,523.1 636.6,521.4 634.6,519.8 632.6,518.2 630.6,516.6 628.6,515.0 626.6,513.4 624.6,511.8 622.6,510.2 620.6,508.6 618.6,507.0 616.6,505.3 614.6,503.7 612.6,502.0 610.6,500.3 608.6,498.6 606.6,496.9 604.6,495.2 602.6,493.4 600.6,491.7 598.6,490.0 596.6,488.4 594.6,486.7 592.6,485.1 590.6,483.5 588.6,481.9 586.6,480.4 584.6,478.8 582.6,477.3 580.6,475.8 578.6,474.3 576.6,472.8 574.6,471.3 572.6,469.8 570.6,468.3 568.6,466.9 566.6,465.4 564.6,463.9 562.6,462.4 560.6,461.0 558.6,459.5 556.6,458.0 554.6,456.4 552.6,454.8 550.6,453.2 548.6,451.5 546.6,449.8 544.6,448.0 542.6,446.2 540.6,444.3 538.6,442.4 536.6,440.5 534.6,438.6 532.6,436.7 530.6,434.8 528.6,432.9 526.6,431.0 524.6,429.1 522.6,427.2 520.6,425.3 518.6,423.4 516.6,421.5 514.6,419.6 512.6,417.6 510.6,415.7 508.6,413.8 506.6,411.9 504.6,410.0 502.6,408.1 500.6,406.2 498.6,404.3 496.6,402.4 494.6,400.5 492.6,398.6 490.6,396.7 488.6,394.8 486.6,392.9 484.6,391.1 482.6,389.3 480.6,387.5 478.6,385.8 476.6,384.1 474.6,382.5 472.6,380.9 470.6,379.3 468.6,377.8 466.6,376.3 464.6,374.7 462.6,373.2 460.6,371.7 458.6,370.3 456.6,368.8 454.6,367.3 452.6,365.9 450.6,364.4 448.6,362.9 446.6,361.3 444.6,359.8 442.6,358.2 440.6,356.5 438.6,354.8 436.6,353.1 434.6,351.4 432.6,349.7 430.6,348.0 428.6,346.4 426.6,344.7 424.6,343.0 422.6,341.4 420.6,339.8 418.6,338.2 416.6,336.6 414.6,335.0 412.6,333.4 410.6,331.8 408.6,330.2 406.6,328.7 404.6,327.1 402.6,325.6 400.6,324.2 398.6,322.7 396.6,321.3 394.6,320.0 392.6,318.6 390.6,317.3 388.6,316.0 386.6,314.8 384.6,313.5 382.6,312.4 380.6,311.3 378.6,310.2 376.6,308.8 374.6,307.2 372.6,305.4 370.6,303.3 368.6,301.2 366.6,299.1 364.6,297.0 362.6,295.0 360.6,292.9 358.6,290.9 356.6,288.9 354.6,286.8 352.6,284.8 350.6,282.9 348.6,281.2 346.6,279.7 344.6,278.5 342.6,277.4 340.6,276.2 338.6,274.9 336.6,273.2 334.6,271.2 332.6,269.0 330.6,266.7 328.6,264.4 326.6,261.9 324.6,259.5 322.6,257.2 320.6,254.8 318.6,252.1 316.6,249.2 314.6,246.5 312.6,243.9 310.6,241.4 308.6,239.0 306.6,236.6 304.6,234.5 302.6,232.4 300.6,230.2 298.6,227.9 296.6,225.5 294.6,223.1 292.6,220.7 290.6,218.3 288.6,215.9 286.6,213.3 284.6,210.1 282.6,205.9 280.6,201.0Z"/>
<path fill="#c86de2" d="M280.6,253.0 280.6,242.2 291.4,242.2 293.4,245.0 295.4,247.7 297.4,250.1 299.4,252.3 301.4,254.3 303.4,256.2 305.4,258.0 307.4,259.8 309.4,261.8 311.4,263.8 313.4,265.8 315.4,267.6 317.4,269.2 319.4,270.4 321.4,271.4 323.4,272.4 325.4,273.7 327.4,275.3 329.4,277.1 331.4,279.0 333.4,280.8 335.4,282.5 337.4,284.3 339.4,286.0 341.4,287.8 343.4,289.5 345.4,291.3 347.4,293.0 349.4,294.8 351.4,296.6 353.4,298.3 355.4,300.1 357.4,301.9 359.4,303.7 361.4,305.5 363.4,307.3 365.4,309.0 367.4,310.8 369.4,312.6 371.4,314.5 373.4,316.3 375.4,318.2 377.4,320.1 379.4,322.0 381.4,323.9 383.4,325.7 385.4,327.6 387.4,329.4 389.4,331.1 391.4,332.8 393.4,334.5 395.4,336.1 397.4,337.8 399.4,339.5 401.4,341.2 403.4,342.8 405.4,344.5 407.4,346.1 409.4,347.8 411.4,349.4 413.4,351.0 415.4,352.6 417.4,354.1 419.4,355.7 421.4,357.2 423.4,358.6 425.4,360.1 427.4,361.5 429.4,362.9 431.4,364.2 433.4,365.5 435.4,366.9 437.4,368.2 439.4,369.6 441.4,370.9 443.4,372.4 445.4,373.8 447.4,375.3 449.4,376.8 451.4,378.4 453.4,380.1 455.4,381.8 457.4,383.5 459.4,385.3 461.4,387.2 463.4,389.1 465.4,391.0 467.4,392.9 469.4,394.8 471.4,396.7 473.4,398.6 475.4,400.5 477.4,402.3 479.4,404.2 481.4,406.0 483.4,407.8 485.4,409.6 487.4,411.4 489.4,413.2 491.4,414.9 493.4,416.7 495.4,418.4 497.4,420.2 499.4,421.9 501.4,423.5 503.4,425.1 505.4,426.7 507.4,428.2 509.4,429.6 511.4,431.0 513.4,432.3 515.4,433.6 517.4,434.9 519.4,436.2 521.4,437.5 523.4,438.8 525.4,440.1 527.4,441.5 529.4,443.0 531.4,444.5 533.4,446.1 535.4,447.8 537.4,449.6 539.4,451.4 541.4,453.3 543.4,455.2 545.4,457.2 547.4,459.1 549.4,461.1 551.4,463.1 553.4,465.0 555.4,466.9 557.4,468.8 559.4,470.6 561.4,472.4 563.4,474.1 565.4,475.8 567.4,477.4 569.4,479.0 571.4,480.6 573.4,482.2 575.4,483.7 577.4,485.3 579.4,486.9 581.4,488.4 583.4,490.0 585.4,491.6 587.4,493.2 589.4,494.8 591.4,496.4 593.4,498.0 595.4,499.7 597.4,501.3 599.4,503.0 601.4,504.6 603.4,506.2 605.4,507.9 607.4,509.5 609.4,511.1 611.4,512.8 613.4,514.4 615.4,516.0 617.4,517.5 619.4,519.1 621.4,520.7 623.4,522.2 625.4,523.7 627.4,525.3 629.4,526.8 631.4,528.4 633.4,529.9 635.4,531.5 637.4,533.1 639.4,534.6 641.4,536.2 643.4,537.7 645.4,539.3 647.4,540.9 649.4,542.4 651.4,544.0 653.4,545.5 655.4,547.1 657.4,548.7 659.4,550.2 661.4,551.8 663.4,553.3 665.4,554.9 667.4,556.5 669.4,558.0 671.4,559.6 673.4,561.2 675.4,562.8 677.4,564.4 679.4,566.0 681.4,567.6 683.4,569.2 685.4,570.8 687.4,572.4 689.4,574.0 691.4,575.7 693.4,577.3 695.4,578.9 697.4,580.5 699.4,582.1 701.4,583.8 703.4,585.4 705.4,587.0 707.4,588.6 709.4,590.2 711.4,591.9 713.4,593.5 715.4,595.1 717.4,596.7 719.4,598.3 721.4,599.9 723.4,601.4 725.4,603.0 727.4,604.5 729.4,606.0 731.4,607.5 733.4,609.0 735.4,610.5 737.4,612.0 739.4,613.4 741.4,614.9 743.4,616.4 745.4,617.8 747.4,619.3 749.4,620.8 751.4,622.2 753.4,623.7 755.4,625.2 757.4,626.6 759.4,628.1 761.4,629.5 763.4,631.0 765.4,632.5 767.4,633.9 769.4,635.3 771.4,636.8 773.4,638.2 775.4,639.6 777.4,640.9 779.4,642.3 781.4,643.6 783.4,644.9 785.4,646.3 787.4,647.6 789.4,648.9 791.4,650.2 793.4,651.5 795.4,652.8 797.4,654.1 799.4,655.4 801.4,656.6 803.4,657.9 805.4,659.2 807.4,660.5 809.4,661.8 811.4,663.1 813.4,664.4 815.4,665.7 817.4,667.0 819.4,668.3 821.4,669.6 823.4,670.8 825.4,672.1 827.4,673.4 829.4,674.6 831.4,675.9 833.4,677.1 835.4,678.4 837.4,679.6 839.4,680.9 841.4,682.1 843.4,683.3 845.4,684.6 847.4,685.8 849.4,687.0 851.4,688.3 853.4,689.5 855.4,690.7 857.4,692.0 859.4,693.2 861.4,694.4 863.4,695.7 865.4,696.9 867.4,698.1 869.4,699.3 871.4,700.5 873.4,701.6 875.4,702.7 877.4,703.8 879.4,704.8 881.4,705.8 883.4,706.8 885.4,707.8 887.4,708.8 889.4,709.7 891.4,710.7 893.4,711.6 895.4,712.6 897.4,713.5 899.4,714.5 901.4,715.4 903.4,716.4 905.4,717.3 907.4,718.3 909.4,719.2 911.4,720.2 913.4,721.1 915.4,722.1 917.4,723.0 919.4,724.0 921.4,725.0 923.4,725.9 925.4,726.9 927.4,727.9 929.4,728.9 931.4,729.9 933.4,731.0 935.4,732.0 937.4,733.0 939.4,734.1 941.4,735.1 943.4,736.1 945.4,737.2 947.4,738.2 949.4,739.2 951.4,740.3 953.4,741.3 955.4,742.3 957.4,743.4 959.4,744.4 961.4,745.4 963.4,746.5 965.4,747.5 967.4,748.5 969.4,749.5 971.4,750.5 973.4,751.5 975.4,752.5 977.4,753.4 979.4,754.4 981.4,755.3 983.4,756.2 985.4,757.1 987.4,758.0 989.4,758.9 991.4,759.8 993.4,760.7 995.4,761.6 997.4,762.5 999.4,763.4 1001.4,764.2 1003.4,765.1 1005.4,766.0 1007.4,766.9 1009.4,767.8 1011.4,768.7 1013.4,769.6 1015.4,770.4 1017.4,771.3 1019.4,772.2 1021.4,773.1 1023.4,773.9 1025.4,774.8 1027.4,775.6 1029.4,776.4 1031.4,777.2 1033.4,778.0 1035.4,778.8 1037.4,779.6 1039.4,780.4 1041.4,781.1 1043.4,781.9 1045.4,782.7 1047.4,783.5 1049.4,784.3 1051.4,785.0 1053.4,785.8 1055.4,786.6 1057.4,787.4 1059.4,788.2 1061.4,788.9 1063.4,789.7 1065.4,790.5 1067.4,791.3 1069.4,792.1 1071.4,792.9 1073.4,793.7 1075.4,794.5 1077.4,795.3 1079.4,796.2 1081.4,797.0 1083.4,797.8 1085.4,798.7 1087.4,799.5 1089.4,800.4 1091.4,801.2 1093.4,802.1 1095.4,803.0 1097.4,803.8 1099.4,804.7 1101.4,805.5 1103.4,806.4 1105.4,807.2 1107.4,808.1 1109.4,808.9 1111.4,809.8 1113.4,810.7 1115.4,811.5 1117.4,812.3 1119.4,813.1 1121.4,813.9 1123.4,814.7 1125.4,815.5 1127.4,816.2 1129.4,816.9 1131.4,817.6 1133.4,818.2 1135.4,818.9 1137.4,819.5 1139.4,820.2 1141.4,820.8 1143.4,821.4 1145.4,822.0 1147.4,822.6 1149.4,823.3 1151.4,823.9 1153.4,824.5 1155.4,825.1 1157.4,825.8 1159.4,826.4 1161.4,827.0 1163.4,827.6 1165.4,828.3 1167.4,828.9 1169.4,829.5 1171.4,830.1 1173.4,830.7 1175.4,831.4 1177.4,832.0 1179.4,832.6 1181.4,833.2 1183.4,833.9 1185.4,834.5 1187.4,835.1 1189.4,835.7 1191.4,836.3 1193.4,837.0 1195.4,837.6 1197.4,838.2 1199.4,838.8 1201.4,839.4 1203.4,840.1 1205.4,840.7 1207.4,841.3 1209.4,841.9 1211.4,842.5 1213.4,843.1 1215.4,843.7 1217.4,844.3 1219.4,844.9 1221.4,845.5 1223.4,846.1 1225.4,846.7 1227.4,847.3 1229.4,847.9 1231.4,848.4 1233.4,849.0 1235.4,849.6 1237.4,850.2 1239.4,850.8 1241.4,851.4 1243.4,852.0 1245.4,852.6 1247.4,853.2 1249.4,853.8 1251.4,854.4 1253.4,855.0 1255.4,855.6 1257.4,856.2 1259.4,856.7 1261.4,857.3 1263.4,857.9 1265.4,858.5 1267.4,859.1 1269.4,859.6 1271.4,860.2 1273.4,860.8 1275.4,861.4 1277.4,861.9 1279.4,862.5 1281.4,863.1 1283.4,863.7 1285.4,864.2 1287.4,864.8 1289.4,865.4 1291.4,866.0 1293.4,866.5 1295.4,867.1 1297.4,867.7 1299.4,868.3 1301.4,868.8 1303.4,869.4 1305.4,870.0 1307.4,870.6 1309.4,871.2 1311.4,871.7 1313.4,872.3 1315.4,872.9 1317.4,873.5 1319.4,874.0 1321.4,874.6 1323.4,875.2 1325.4,875.8 1327.4,876.3 1329.4,876.9 1331.4,877.5 1333.4,878.0 1335.4,878.6 1337.4,879.1 1339.4,879.7 1341.4,880.2 1343.4,880.7 1345.4,881.2 1347.4,881.7 1349.4,882.1 1351.4,882.6 1353.4,883.1 1355.4,883.5 1357.4,884.0 1359.4,884.5 1361.4,884.9 1363.4,885.4 1365.4,885.8 1367.4,886.3 1369.4,886.8 1371.4,887.2 1373.4,887.7 1375.4,888.2 1377.4,888.6 1379.4,889.1 1381.4,889.5 1383.4,890.0 1385.4,890.4 1387.4,890.9 1389.4,891.3 1391.4,891.7 1393.4,892.1 1395.4,892.5 1397.4,892.9 1399.4,893.2 1401.4,893.5 1403.4,893.8 1405.4,894.1 1407.4,894.4 1409.4,894.7 1411.4,895.0 1413.4,895.3 1415.4,895.6 1417.4,895.9 1419.4,896.2 1421.4,896.5 1423.4,896.7 1425.4,897.0 1427.4,897.3 1429.4,897.6 1431.4,897.9 1433.4,898.2 1435.4,898.5 1437.4,898.8 1439.4,899.1 1441.4,899.4 1443.4,899.7 1445.4,900.1 1447.4,900.4 1449.4,900.8 1451.4,901.2 1453.4,901.6 1455.4,902.0 1457.4,902.4 1459.4,902.8 1461.4,903.2 1463.4,903.6 1465.4,904.0 1467.4,904.4 1469.4,904.8 1471.4,905.2 1473.4,905.6 1475.4,906.0 1477.4,906.4 1479.4,906.8 1481.4,907.2 1483.4,907.6 1485.4,908.1 1487.4,908.6 1489.4,909.1 1491.4,909.5 1493.4,910.0 1495.4,910.5 1497.4,911.0 1499.4,911.5 1501.4,912.0 1503.4,912.5 1505.4,913.0 1507.4,913.5 1509.4,914.0 1511.4,914.5 1513.4,915.0 1515.4,915.5 1517.4,916.0 1519.4,916.5 1521.4,917.0 1523.4,917.5 1525.4,917.9 1527.4,918.3 1529.4,918.7 1531.4,919.1 1533.4,919.5 1535.4,919.9 1537.4,920.3 1539.4,920.6 1541.4,921.0 1543.4,921.4 1545.4,921.8 1547.4,922.1 1549.4,922.5 1551.4,922.9 1553.4,923.3 1555.4,923.6 1557.4,924.0 1559.4,924.4 1561.4,924.8 1563.4,925.3 1565.4,925.7 1567.4,926.2 1569.4,926.7 1571.4,927.1 1573.4,927.6 1575.4,928.1 1577.4,928.6 1579.4,929.1 1581.4,929.6 1583.4,930.1 1585.4,930.5 1587.4,931.0 1589.4,931.5 1591.4,932.0 1593.4,932.5 1595.4,933.0 1597.4,933.5 1599.4,933.9 1601.4,934.4 1603.4,934.9 1605.4,935.3 1607.4,935.8 1609.4,936.2 1611.4,936.6 1613.4,937.0 1615.4,937.4 1617.4,937.8 1619.4,938.3 1621.4,938.7 1623.4,939.1 1625.4,939.5 1627.4,939.9 1629.4,940.3 1631.4,940.7 1633.4,941.1 1635.4,941.5 1637.4,941.9 1639.4,942.4 1641.4,942.8 1643.4,943.3 1645.4,943.8 1647.4,944.3 1649.4,944.7 1651.4,945.2 1653.4,945.7 1655.4,946.2 1657.4,946.7 1659.4,947.2 1661.4,947.7 1663.4,948.2 1665.4,948.7 1667.4,949.2 1669.4,949.7 1671.4,950.2 1673.4,950.7 1675.4,951.2 1677.4,951.8 1679.4,952.3 1681.4,952.9 1683.4,953.5 1685.4,954.1 1687.4,954.8 1689.4,955.4 1691.4,956.1 1693.4,956.7 1695.4,957.4 1697.4,958.0 1699.4,958.7 1701.4,959.3 1703.4,960.0 1705.4,960.6 1707.4,961.3 1709.4,961.9 1711.4,962.6 1713.4,963.2 1715.4,963.8 1717.4,964.3 1719.4,964.8 1721.4,965.1 1723.4,965.3 1725.4,965.5 1727.4,965.6 1729.4,965.7 1731.4,965.8 1733.4,965.9 1735.4,966.0 1737.4,966.0 1739.4,966.1 1741.4,966.2 1743.4,966.3 1745.4,966.4 1747.4,966.5 1749.4,966.6 1749.4,977.4 1738.6,977.4 1736.6,977.3 1734.6,977.2 1732.6,977.1 1730.6,977.0 1728.6,976.9 1726.6,976.8 1724.6,976.8 1722.6,976.7 1720.6,976.6 1718.6,976.5 1716.6,976.4 1714.6,976.3 1712.6,976.1 1710.6,975.9 1708.6,975.6 1706.6,975.1 1704.6,974.6 1702.6,974.0 1700.6,973.4 1698.6,972.7 1696.6,972.1 1694.6,971.4 1692.6,970.8 1690.6,970.1 1688.6,969.5 1686.6,968.8 1684.6,968.2 1682.6,967.5 1680.6,966.9 1678.6,966.2 1676.6,965.6 1674.6,964.9 1672.6,964.3 1670.6,963.7 1668.6,963.1 1666.6,962.6 1664.6,962.0 1662.6,961.5 1660.6,961.0 1658.6,960.5 1656.6,960.0 1654.6,959.5 1652.6,959.0 1650.6,958.5 1648.6,958.0 1646.6,957.5 1644.6,957.0 1642.6,956.5 1640.6,956.0 1638.6,955.5 1636.6,955.1 1634.6,954.6 1632.6,954.1 1630.6,953.6 1628.6,953.2 1626.6,952.7 1624.6,952.3 1622.6,951.9 1620.6,951.5 1618.6,951.1 1616.6,950.7 1614.6,950.3 1612.6,949.9 1610.6,949.5 1608.6,949.1 1606.6,948.6 1604.6,948.2 1602.6,947.8 1600.6,947.4 1598.6,947.0 1596.6,946.6 1594.6,946.1 1592.6,945.7 1590.6,945.2 1588.6,944.7 1586.6,944.3 1584.6,943.8 1582.6,943.3 1580.6,942.8 1578.6,942.3 1576.6,941.8 1574.6,941.3 1572.6,940.9 1570.6,940.4 1568.6,939.9 1566.6,939.4 1564.6,938.9 1562.6,938.4 1560.6,937.9 1558.6,937.5 1556.6,937.0 1554.6,936.5 1552.6,936.1 1550.6,935.6 1548.6,935.2 1546.6,934.8 1544.6,934.4 1542.6,934.1 1540.6,933.7 1538.6,933.3 1536.6,932.9 1534.6,932.6 1532.6,932.2 1530.6,931.8 1528.6,931.4 1526.6,931.1 1524.6,930.7 1522.6,930.3 1520.6,929.9 1518.6,929.5 1516.6,929.1 1514.6,928.7 1512.6,928.3 1510.6,927.8 1508.6,927.3 1506.6,926.8 1504.6,926.3 1502.6,925.8 1500.6,925.3 1498.6,924.8 1496.6,924.3 1494.6,923.8 1492.6,923.3 1490.6,922.8 1488.6,922.3 1486.6,921.8 1484.6,921.3 1482.6,920.8 1480.6,920.3 1478.6,919.9 1476.6,919.4 1474.6,918.9 1472.6,918.4 1470.6,918.0 1468.6,917.6 1466.6,917.2 1464.6,916.8 1462.6,916.4 1460.6,916.0 1458.6,915.6 1456.6,915.2 1454.6,914.8 1452.6,914.4 1450.6,914.0 1448.6,913.6 1446.6,913.2 1444.6,912.8 1442.6,912.4 1440.6,912.0 1438.6,911.6 1436.6,911.2 1434.6,910.9 1432.6,910.5 1430.6,910.2 1428.6,909.9 1426.6,909.6 1424.6,909.3 1422.6,909.0 1420.6,908.7 1418.6,908.4 1416.6,908.1 1414.6,907.8 1412.6,907.5 1410.6,907.3 1408.6,907.0 1406.6,906.7 1404.6,906.4 1402.6,906.1 1400.6,905.8 1398.6,905.5 1396.6,905.2 1394.6,904.9 1392.6,904.6 1390.6,904.3 1388.6,904.0 1386.6,903.7 1384.6,903.3 1382.6,902.9 1380.6,902.5 1378.6,902.1 1376.6,901.7 1374.6,901.2 1372.6,900.8 1370.6,900.3 1368.6,899.9 1366.6,899.4 1364.6,899.0 1362.6,898.5 1360.6,898.0 1358.6,897.6 1356.6,897.1 1354.6,896.6 1352.6,896.2 1350.6,895.7 1348.6,895.3 1346.6,894.8 1344.6,894.3 1342.6,893.9 1340.6,893.4 1338.6,892.9 1336.6,892.5 1334.6,892.0 1332.6,891.5 1330.6,891.0 1328.6,890.5 1326.6,889.9 1324.6,889.4 1322.6,888.8 1320.6,888.3 1318.6,887.7 1316.6,887.1 1314.6,886.6 1312.6,886.0 1310.6,885.4 1308.6,884.8 1306.6,884.3 1304.6,883.7 1302.6,883.1 1300.6,882.5 1298.6,882.0 1296.6,881.4 1294.6,880.8 1292.6,880.2 1290.6,879.6 1288.6,879.1 1286.6,878.5 1284.6,877.9 1282.6,877.3 1280.6,876.8 1278.6,876.2 1276.6,875.6 1274.6,875.0 1272.6,874.5 1270.6,873.9 1268.6,873.3 1266.6,872.7 1264.6,872.2 1262.6,871.6 1260.6,871.0 1258.6,870.4 1256.6,869.9 1254.6,869.3 1252.6,868.7 1250.6,868.1 1248.6,867.5 1246.6,867.0 1244.6,866.4 1242.6,865.8 1240.6,865.2 1238.6,864.6 1236.6,864.0 1234.6,863.4 1232.6,862.8 1230.6,862.2 1228.6,861.6 1226.6,861.0 1224.6,860.4 1222.6,859.8 1220.6,859.2 1218.6,858.7 1216.6,858.1 1214.6,857.5 1212.6,856.9 1210.6,856.3 1208.6,855.7 1206.6,855.1 1204.6,854.5 1202.6,853.9 1200.6,853.3 1198.6,852.7 1196.6,852.1 1194.6,851.5 1192.6,850.9 1190.6,850.2 1188.6,849.6 1186.6,849.0 1184.6,848.4 1182.6,847.8 1180.6,847.1 1178.6,846.5 1176.6,845.9 1174.6,845.3 1172.6,844.7 1170.6,844.0 1168.6,843.4 1166.6,842.8 1164.6,842.2 1162.6,841.5 1160.6,840.9 1158.6,840.3 1156.6,839.7 1154.6,839.1 1152.6,838.4 1150.6,837.8 1148.6,837.2 1146.6,836.6 1144.6,835.9 1142.6,835.3 1140.6,834.7 1138.6,834.1 1136.6,833.4 1134.6,832.8 1132.6,832.2 1130.6,831.6 1128.6,831.0 1126.6,830.3 1124.6,829.7 1122.6,829.0 1120.6,828.4 1118.6,827.7 1116.6,827.0 1114.6,826.3 1112.6,825.5 1110.6,824.7 1108.6,823.9 1106.6,823.1 1104.6,822.3 1102.6,821.5 1100.6,820.6 1098.6,819.7 1096.6,818.9 1094.6,818.0 1092.6,817.2 1090.6,816.3 1088.6,815.5 1086.6,814.6 1084.6,813.8 1082.6,812.9 1080.6,812.0 1078.6,811.2 1076.6,810.3 1074.6,809.5 1072.6,808.6 1070.6,807.8 1068.6,807.0 1066.6,806.1 1064.6,805.3 1062.6,804.5 1060.6,803.7 1058.6,802.9 1056.6,802.1 1054.6,801.3 1052.6,800.5 1050.6,799.7 1048.6,799.0 1046.6,798.2 1044.6,797.4 1042.6,796.6 1040.6,795.8 1038.6,795.1 1036.6,794.3 1034.6,793.5 1032.6,792.7 1030.6,791.9 1028.6,791.2 1026.6,790.4 1024.6,789.6 1022.6,788.8 1020.6,788.0 1018.6,787.2 1016.6,786.4 1014.6,785.6 1012.6,784.7 1010.6,783.9 1008.6,783.0 1006.6,782.1 1004.6,781.2 1002.6,780.4 1000.6,779.5 998.6,778.6 996.6,777.7 994.6,776.8 992.6,775.9 990.6,775.0 988.6,774.2 986.6,773.3 984.6,772.4 982.6,771.5 980.6,770.6 978.6,769.7 976.6,768.8 974.6,767.9 972.6,767.0 970.6,766.1 968.6,765.2 966.6,764.2 964.6,763.3 962.6,762.3 960.6,761.3 958.6,760.3 956.6,759.3 954.6,758.3 952.6,757.3 950.6,756.2 948.6,755.2 946.6,754.2 944.6,753.1 942.6,752.1 940.6,751.1 938.6,750.0 936.6,749.0 934.6,748.0 932.6,746.9 930.6,745.9 928.6,744.9 926.6,743.8 924.6,742.8 922.6,741.8 920.6,740.7 918.6,739.7 916.6,738.7 914.6,737.7 912.6,736.7 910.6,735.8 908.6,734.8 906.6,733.8 904.6,732.9 902.6,731.9 900.6,731.0 898.6,730.0 896.6,729.1 894.6,728.1 892.6,727.2 890.6,726.2 888.6,725.3 886.6,724.3 884.6,723.4 882.6,722.4 880.6,721.5 878.6,720.5 876.6,719.6 874.6,718.6 872.6,717.6 870.6,716.6 868.6,715.6 866.6,714.6 864.6,713.5 862.6,712.4 860.6,711.3 858.6,710.1 856.6,708.9 854.6,707.7 852.6,706.5 850.6,705.2 848.6,704.0 846.6,702.8 844.6,701.5 842.6,700.3 840.6,699.1 838.6,697.8 836.6,696.6 834.6,695.4 832.6,694.1 830.6,692.9 828.6,691.7 826.6,690.4 824.6,689.2 822.6,687.9 820.6,686.7 818.6,685.4 816.6,684.2 814.6,682.9 812.6,681.6 810.6,680.4 808.6,679.1 806.6,677.8 804.6,676.5 802.6,675.2 800.6,673.9 798.6,672.6 796.6,671.3 794.6,670.0 792.6,668.7 790.6,667.4 788.6,666.2 786.6,664.9 784.6,663.6 782.6,662.3 780.6,661.0 778.6,659.7 776.6,658.4 774.6,657.1 772.6,655.7 770.6,654.4 768.6,653.1 766.6,651.7 764.6,650.4 762.6,649.0 760.6,647.6 758.6,646.1 756.6,644.7 754.6,643.3 752.6,641.8 750.6,640.3 748.6,638.9 746.6,637.4 744.6,636.0 742.6,634.5 740.6,633.0 738.6,631.6 736.6,630.1 734.6,628.6 732.6,627.2 730.6,625.7 728.6,624.2 726.6,622.8 724.6,621.3 722.6,619.8 720.6,618.3 718.6,616.8 716.6,615.3 714.6,613.8 712.6,612.2 710.6,610.7 708.6,609.1 706.6,607.5 704.6,605.9 702.6,604.3 700.6,602.7 698.6,601.0 696.6,599.4 694.6,597.8 692.6,596.2 690.6,594.6 688.6,592.9 686.6,591.3 684.6,589.7 682.6,588.1 680.6,586.5 678.6,584.8 676.6,583.2 674.6,581.6 672.6,580.0 670.6,578.4 668.6,576.8 666.6,575.2 664.6,573.6 662.6,572.0 660.6,570.4 658.6,568.8 656.6,567.3 654.6,565.7 652.6,564.1 650.6,562.6 648.6,561.0 646.6,559.5 644.6,557.9 642.6,556.3 640.6,554.8 638.6,553.2 636.6,551.7 634.6,550.1 632.6,548.5 630.6,547.0 628.6,545.4 626.6,543.9 624.6,542.3 622.6,540.7 620.6,539.2 618.6,537.6 616.6,536.1 614.6,534.5 612.6,533.0 610.6,531.5 608.6,529.9 606.6,528.3 604.6,526.8 602.6,525.2 600.6,523.6 598.6,521.9 596.6,520.3 594.6,518.7 592.6,517.0 590.6,515.4 588.6,513.8 586.6,512.1 584.6,510.5 582.6,508.8 580.6,507.2 578.6,505.6 576.6,504.0 574.6,502.4 572.6,500.8 570.6,499.2 568.6,497.7 566.6,496.1 564.6,494.5 562.6,493.0 560.6,491.4 558.6,489.8 556.6,488.2 554.6,486.6 552.6,484.9 550.6,483.2 548.6,481.4 546.6,479.6 544.6,477.7 542.6,475.8 540.6,473.9 538.6,471.9 536.6,469.9 534.6,468.0 532.6,466.0 530.6,464.1 528.6,462.2 526.6,460.4 524.6,458.6 522.6,456.9 520.6,455.3 518.6,453.8 516.6,452.3 514.6,450.9 512.6,449.6 510.6,448.3 508.6,447.0 506.6,445.7 504.6,444.4 502.6,443.1 500.6,441.8 498.6,440.4 496.6,439.0 494.6,437.5 492.6,435.9 490.6,434.3 488.6,432.7 486.6,431.0 484.6,429.2 482.6,427.5 480.6,425.7 478.6,424.0 476.6,422.2 474.6,420.4 472.6,418.6 470.6,416.8 468.6,415.0 466.6,413.1 464.6,411.3 462.6,409.4 460.6,407.5 458.6,405.6 456.6,403.7 454.6,401.8 452.6,399.9 450.6,398.0 448.6,396.1 446.6,394.3 444.6,392.6 442.6,390.9 440.6,389.2 438.6,387.6 436.6,386.1 434.6,384.6 432.6,383.2 430.6,381.7 428.6,380.4 426.6,379.0 424.6,377.7 422.6,376.3 420.6,375.0 418.6,373.7 416.6,372.3 414.6,370.9 412.6,369.4 410.6,368.0 408.6,366.5 406.6,364.9 404.6,363.4 402.6,361.8 400.6,360.2 398.6,358.6 396.6,356.9 394.6,355.3 392.6,353.6 390.6,352.0 388.6,350.3 386.6,348.6 384.6,346.9 382.6,345.3 380.6,343.6 378.6,341.9 376.6,340.2 374.6,338.4 372.6,336.5 370.6,334.7 368.6,332.8 366.6,330.9 364.6,329.0 362.6,327.1 360.6,325.3 358.6,323.4 356.6,321.6 354.6,319.8 352.6,318.1 350.6,316.3 348.6,314.5 346.6,312.7 344.6,310.9 342.6,309.1 340.6,307.4 338.6,305.6 336.6,303.8 334.6,302.1 332.6,300.3 330.6,298.6 328.6,296.8 326.6,295.1 324.6,293.3 322.6,291.6 320.6,289.8 318.6,287.9 316.6,286.1 314.6,284.5 312.6,283.2 310.6,282.2 308.6,281.2 306.6,280.0 304.6,278.4 302.6,276.6 300.6,274.6 298.6,272.6 296.6,270.6 294.6,268.8 292.6,267.0 290.6,265.1 288.6,263.1 286.6,260.9 284.6,258.5 282.6,255.8 280.6,253.0Z"/>
</g>
<g font-size="78" text-anchor="end" class="tick">
<text x="276.5" y="77.9">-0.40</text>
<text x="276.5" y="291.9">-0.45</text>
<text x="276.5" y="506.0">-0.50</text>
<text x="276.5" y="720.0">-0.55</text>
<text x="276.5" y="934.0">-0.60</text>
<text x="276.5" y="1148.1">-0.65</text>
</g>
<g font-size="78" text-anchor="middle" class="tick">
<text x="286.0" y="1320.6">0</text>
<text x="633.1" y="1320.6">500</text>
<text x="980.2" y="1320.6">1000</text>
<text x="1327.3" y="1320.6">1500</text>
<text x="1674.4" y="1320.6">2000</text>
</g>
<text font-size="76.5" x="883.4" y="1424.9" letter-spacing="1.3">Time</text>
<text font-size="76.5" x="1066.8" y="1424.9">(s)</text>
<text font-size="78.45" transform="translate(82.3 1122) rotate(-90)" x="0" y="0">Potential (V) vs. sat. Ag/AgCl</text>
<rect x="1171" y="157.3" width="173.5" height="10.8" rx="3" fill="#4e4e4e"/>
<text font-size="70" x="1359.7" y="187.2">Blank</text>
<rect x="1171" y="255.9" width="173.5" height="12.9" rx="3" fill="#ff4040"/>
<text font-size="72" x="1355.3" y="286.4">20 mg</text>
<text font-size="49" x="1550.7" y="278.9" text-anchor="middle">·</text>
<text font-size="74" transform="translate(1562 286.4) scale(1.05 1)" x="0" y="0">L</text>
<text font-size="58.2" x="1605.0" y="260.0" transform="translate(0 240.7) scale(1 0.93) translate(0 -240.7)">−</text>
<text font-size="51.8" transform="translate(1640.2 256.6) scale(0.669 1)" x="-4.6" y="0">1</text>
<rect x="1171" y="355.5" width="173.5" height="11.6" rx="3" fill="#006ce4"/>
<text font-size="72" x="1355.3" y="385.6">40 mg</text>
<text font-size="49" x="1550.7" y="378.1" text-anchor="middle">·</text>
<text font-size="74" transform="translate(1562 385.6) scale(1.05 1)" x="0" y="0">L</text>
<text font-size="58.2" x="1605.0" y="359.2" transform="translate(0 339.9) scale(1 0.93) translate(0 -339.9)">−</text>
<text font-size="51.8" transform="translate(1640.2 355.8) scale(0.669 1)" x="-4.6" y="0">1</text>
<rect x="1171" y="454.4" width="173.5" height="11.8" rx="3" fill="#00ae5c"/>
<text font-size="72" x="1355.3" y="484.8">60 mg</text>
<text font-size="49" x="1550.7" y="477.3" text-anchor="middle">·</text>
<text font-size="74" transform="translate(1562 484.8) scale(1.05 1)" x="0" y="0">L</text>
<text font-size="58.2" x="1605.0" y="458.4" transform="translate(0 439.1) scale(1 0.93) translate(0 -439.1)">−</text>
<text font-size="51.8" transform="translate(1640.2 455.0) scale(0.669 1)" x="-4.6" y="0">1</text>
<rect x="1171" y="552.4" width="173.5" height="13.4" rx="3" fill="#c86de2"/>
<text font-size="72" x="1355.3" y="584.0">80 mg</text>
<text font-size="49" x="1550.7" y="576.5" text-anchor="middle">·</text>
<text font-size="74" transform="translate(1562 584.0) scale(1.05 1)" x="0" y="0">L</text>
<text font-size="58.2" x="1605.0" y="557.6" transform="translate(0 538.3) scale(1 0.93) translate(0 -538.3)">−</text>
<text font-size="51.8" transform="translate(1640.2 554.2) scale(0.669 1)" x="-4.6" y="0">1</text>
<rect x="1581" y="282.3" width="13" height="5" fill="#fefefe"/>
</svg></body></html>
